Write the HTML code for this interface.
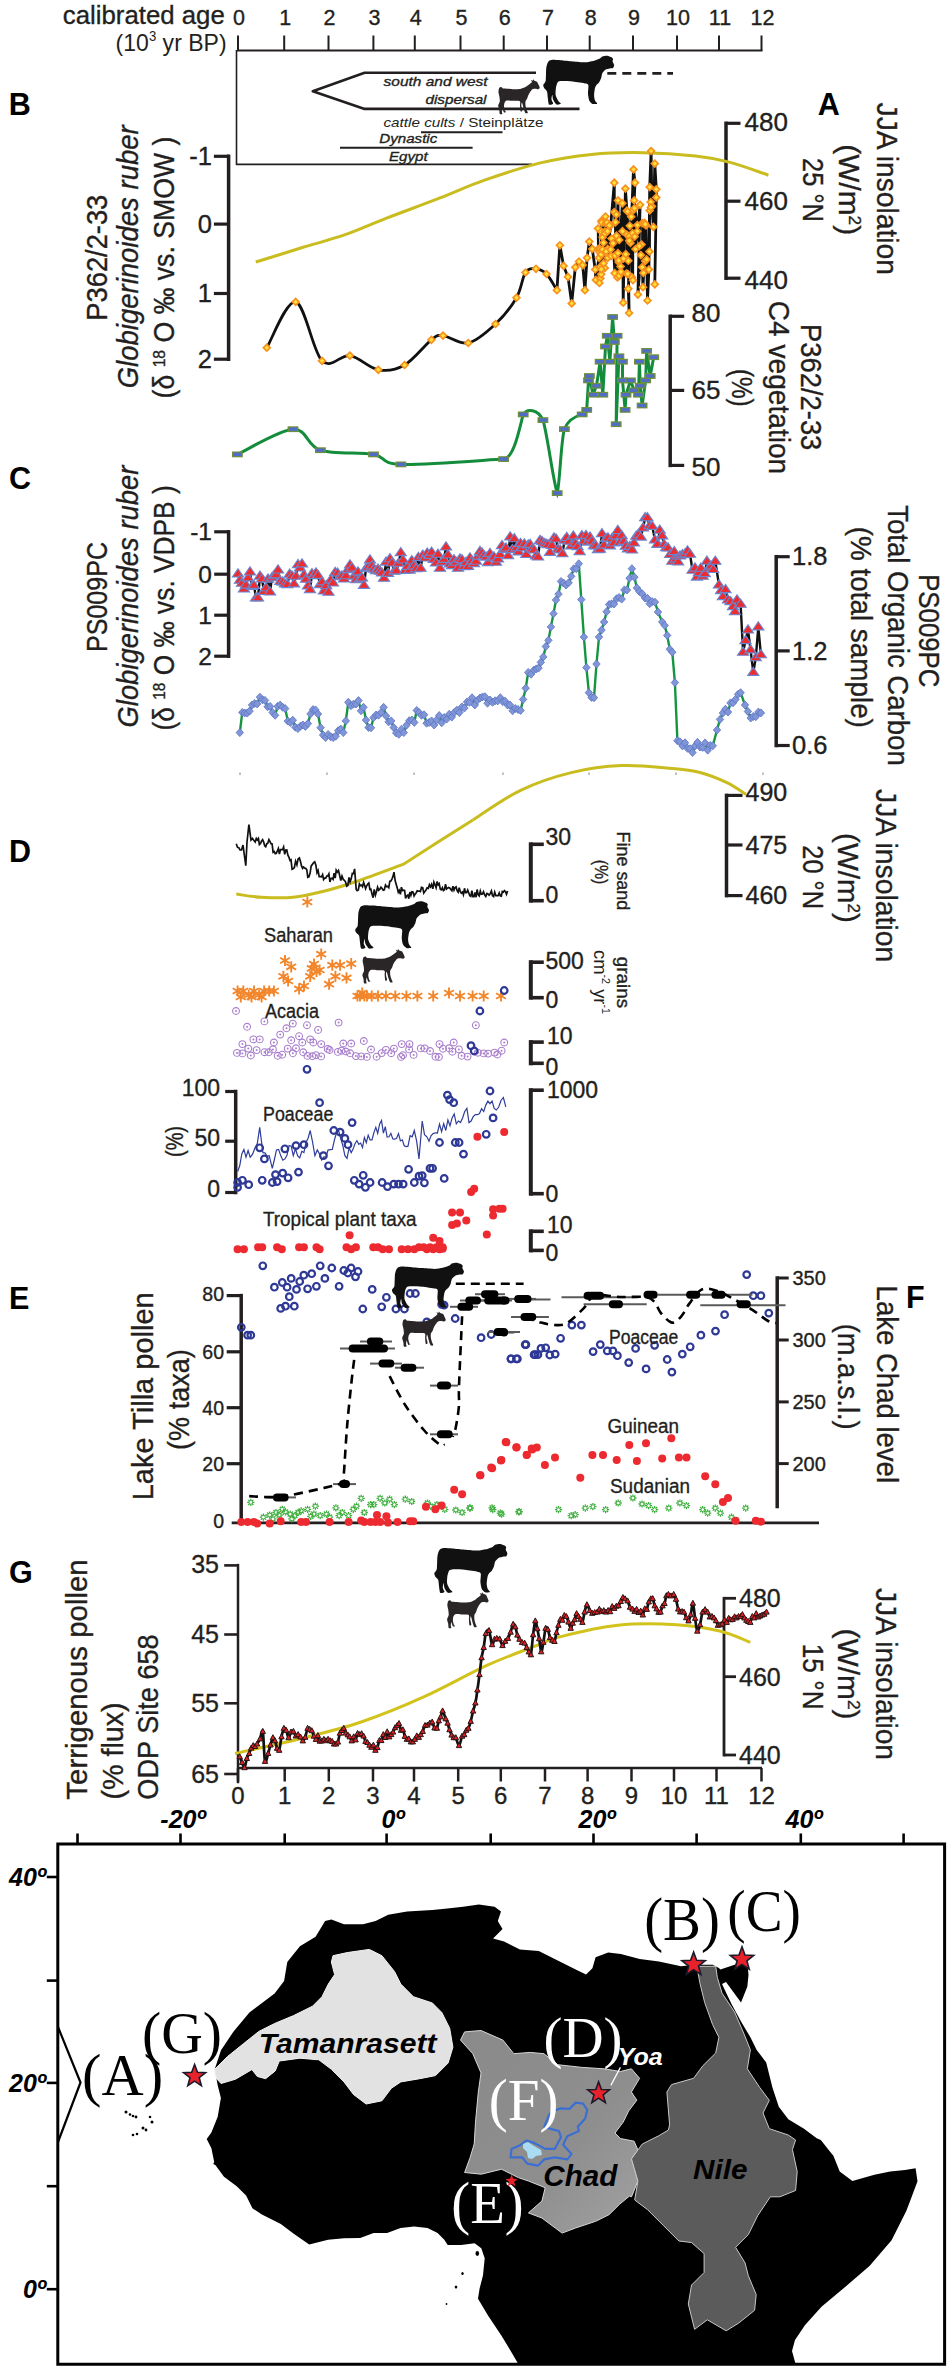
<!DOCTYPE html>
<html><head><meta charset="utf-8"><style>
html,body{margin:0;padding:0;background:#fff;}
svg{display:block;font-family:"Liberation Sans", sans-serif;}
</style></head><body>
<svg width="951" height="2371" viewBox="0 0 951 2371" fill="#231f20">
<rect width="951" height="2371" fill="#fff"/>
<line x1="237" y1="50.5" x2="762.5" y2="50.5" stroke="#231f20" stroke-width="2" />
<line x1="238" y1="35.5" x2="238" y2="50.5" stroke="#231f20" stroke-width="2" />
<text x="239" y="25.3" font-size="21.5" text-anchor="middle" stroke="#231f20" stroke-width="0.35" >0</text>
<line x1="284.2" y1="35.5" x2="284.2" y2="50.5" stroke="#231f20" stroke-width="2" />
<text x="285.2" y="25.3" font-size="21.5" text-anchor="middle" stroke="#231f20" stroke-width="0.35" >1</text>
<line x1="328.5" y1="35.5" x2="328.5" y2="50.5" stroke="#231f20" stroke-width="2" />
<text x="329.5" y="25.3" font-size="21.5" text-anchor="middle" stroke="#231f20" stroke-width="0.35" >2</text>
<line x1="373.4" y1="35.5" x2="373.4" y2="50.5" stroke="#231f20" stroke-width="2" />
<text x="374.4" y="25.3" font-size="21.5" text-anchor="middle" stroke="#231f20" stroke-width="0.35" >3</text>
<line x1="414.8" y1="35.5" x2="414.8" y2="50.5" stroke="#231f20" stroke-width="2" />
<text x="415.8" y="25.3" font-size="21.5" text-anchor="middle" stroke="#231f20" stroke-width="0.35" >4</text>
<line x1="460.5" y1="35.5" x2="460.5" y2="50.5" stroke="#231f20" stroke-width="2" />
<text x="461.5" y="25.3" font-size="21.5" text-anchor="middle" stroke="#231f20" stroke-width="0.35" >5</text>
<line x1="503.7" y1="35.5" x2="503.7" y2="50.5" stroke="#231f20" stroke-width="2" />
<text x="504.7" y="25.3" font-size="21.5" text-anchor="middle" stroke="#231f20" stroke-width="0.35" >6</text>
<line x1="547" y1="35.5" x2="547" y2="50.5" stroke="#231f20" stroke-width="2" />
<text x="548" y="25.3" font-size="21.5" text-anchor="middle" stroke="#231f20" stroke-width="0.35" >7</text>
<line x1="589.7" y1="35.5" x2="589.7" y2="50.5" stroke="#231f20" stroke-width="2" />
<text x="590.7" y="25.3" font-size="21.5" text-anchor="middle" stroke="#231f20" stroke-width="0.35" >8</text>
<line x1="633" y1="35.5" x2="633" y2="50.5" stroke="#231f20" stroke-width="2" />
<text x="634" y="25.3" font-size="21.5" text-anchor="middle" stroke="#231f20" stroke-width="0.35" >9</text>
<line x1="677" y1="35.5" x2="677" y2="50.5" stroke="#231f20" stroke-width="2" />
<text x="678" y="25.3" font-size="21.5" text-anchor="middle" stroke="#231f20" stroke-width="0.35" >10</text>
<line x1="719" y1="35.5" x2="719" y2="50.5" stroke="#231f20" stroke-width="2" />
<text x="720" y="25.3" font-size="21.5" text-anchor="middle" stroke="#231f20" stroke-width="0.35" >11</text>
<line x1="761.5" y1="35.5" x2="761.5" y2="50.5" stroke="#231f20" stroke-width="2" />
<text x="762.5" y="25.3" font-size="21.5" text-anchor="middle" stroke="#231f20" stroke-width="0.35" >12</text>
<text x="224.8" y="24.2" font-size="26" text-anchor="end" textLength="162" lengthAdjust="spacingAndGlyphs" stroke="#231f20" stroke-width="0.35" >calibrated age</text>
<text x="226.6" y="51.3" font-size="24.5" text-anchor="end" textLength="111" lengthAdjust="spacingAndGlyphs">(10<tspan font-size="14" dy="-10">3</tspan><tspan dy="10"> yr BP)</tspan></text>
<line x1="236.5" y1="50" x2="236.5" y2="165" stroke="#231f20" stroke-width="1.6" />
<line x1="236" y1="164.4" x2="532" y2="164.4" stroke="#231f20" stroke-width="1.6" />
<polyline points="536.0,72.8 364.6,72.8 312.8,91.2 364.6,108.9 579.5,108.9" fill="none" stroke="#231f20" stroke-width="2.6" stroke-linejoin="round" />
<text x="435.6" y="85.7" font-size="13.6" text-anchor="middle" font-style="italic" textLength="104" lengthAdjust="spacingAndGlyphs" stroke="#231f20" stroke-width="0.35" >south and west</text>
<text x="486.5" y="103.8" font-size="13.6" text-anchor="end" font-style="italic" textLength="61" lengthAdjust="spacingAndGlyphs" stroke="#231f20" stroke-width="0.35" >dispersal</text>
<text x="383.5" y="127" font-size="13.6" textLength="160" lengthAdjust="spacingAndGlyphs"><tspan font-style="italic">cattle cults</tspan> / Steinplätze</text>
<line x1="421" y1="132.2" x2="502.5" y2="132.2" stroke="#231f20" stroke-width="2" />
<text x="379.3" y="143.2" font-size="13.6" text-anchor="start" font-style="italic" textLength="58" lengthAdjust="spacingAndGlyphs" stroke="#231f20" stroke-width="0.35" >Dynastic</text>
<line x1="340" y1="147.8" x2="472.6" y2="147.8" stroke="#231f20" stroke-width="2" />
<text x="389" y="161" font-size="13.6" text-anchor="start" font-style="italic" textLength="38.6" lengthAdjust="spacingAndGlyphs" stroke="#231f20" stroke-width="0.35" >Egypt</text>
<line x1="607.3" y1="73.4" x2="673" y2="73.4" stroke="#231f20" stroke-width="2.6" stroke-dasharray="9,6"/>
<defs><path id="cow" d="M549.0,61.0 C549.6,60.6 551.0,59.9 552.3,59.8 C553.6,59.7 558.1,60.0 560.5,60.2 C562.9,60.4 569.9,61.2 572.8,61.4 C575.7,61.6 582.7,62.3 585.1,62.3 C587.5,62.3 591.6,61.4 593.3,61.0 C595.0,60.6 598.9,59.1 599.9,58.6 C600.9,58.1 601.4,56.8 602.3,56.5 C603.2,56.2 606.2,55.6 607.3,55.7 C608.4,55.8 610.7,56.9 611.4,57.3 C612.1,57.7 612.9,58.5 613.0,59.0 C613.1,59.5 612.5,60.7 612.6,61.4 C612.7,62.1 614.2,64.3 614.2,65.1 C614.2,65.9 613.5,67.6 613.0,68.0 C612.5,68.4 610.6,68.2 609.7,68.4 C608.8,68.6 606.5,69.0 605.6,69.6 C604.7,70.2 602.8,72.3 602.3,73.3 C601.8,74.3 601.5,77.2 601.1,78.3 C600.7,79.4 599.6,81.6 599.1,82.4 C598.6,83.2 597.1,84.1 596.6,84.8 C596.1,85.5 595.3,86.9 595.0,88.1 C594.7,89.3 594.1,94.1 594.1,95.5 C594.1,96.9 594.6,99.4 595.0,100.4 C595.4,101.4 597.5,103.3 597.2,103.7 C596.9,104.1 593.4,104.3 592.5,103.9 C591.6,103.5 589.7,101.6 589.2,100.4 C588.7,99.2 588.1,95.5 588.0,93.8 C587.9,92.1 588.6,86.8 588.4,85.6 C588.2,84.4 587.7,84.1 585.9,83.6 C584.1,83.1 575.8,81.8 572.8,81.5 C569.8,81.2 562.3,81.0 560.5,81.1 C558.7,81.2 558.1,81.7 557.6,82.4 C557.1,83.1 556.2,85.9 556.0,87.3 C555.8,88.7 555.4,93.2 555.6,94.7 C555.8,96.2 557.4,99.4 558.0,100.4 C558.6,101.5 561.1,103.2 560.9,103.7 C560.7,104.2 557.3,105.0 556.4,104.5 C555.5,104.0 553.6,100.7 553.1,99.6 C552.6,98.5 552.5,94.7 552.3,94.7 C552.1,94.7 551.4,98.5 551.5,99.6 C551.6,100.6 553.4,103.1 553.1,103.7 C552.8,104.3 549.6,105.2 549.0,104.5 C548.4,103.8 548.0,99.4 547.8,97.9 C547.6,96.4 547.4,92.5 547.0,91.4 C546.6,90.3 544.5,88.9 544.1,88.1 C543.7,87.3 543.1,85.7 543.3,84.8 C543.5,83.9 545.4,82.6 545.7,80.7 C546.0,78.8 546.0,70.4 546.2,68.4 C546.4,66.4 547.1,64.4 547.4,63.5 C547.7,62.6 548.4,61.4 549.0,61.0Z"/><path id="goat" d="M498.7,89.8 C498.8,89.3 499.0,88.0 499.3,87.7 C499.6,87.4 501.0,87.0 501.4,87.1 C501.8,87.2 502.0,88.0 502.4,88.2 C502.8,88.4 503.3,88.4 504.5,88.5 C505.7,88.6 510.6,89.1 512.4,89.2 C514.2,89.3 518.8,89.2 520.3,89.0 C521.8,88.8 524.3,87.7 525.5,87.1 C526.7,86.5 529.6,84.1 530.3,83.5 C531.0,82.9 531.8,82.3 531.9,81.9 C532.0,81.5 530.7,79.9 530.8,79.8 C530.9,79.7 532.3,80.9 532.6,80.8 C532.9,80.7 533.0,79.3 533.2,79.3 C533.4,79.3 534.0,80.5 534.5,80.8 C535.0,81.1 536.6,81.4 537.1,81.9 C537.6,82.4 538.4,84.3 538.7,85.0 C539.0,85.7 539.8,87.2 539.7,87.7 C539.6,88.2 538.7,89.1 538.2,89.2 C537.7,89.3 536.2,88.7 535.5,88.7 C534.8,88.7 533.1,88.8 532.4,89.2 C531.7,89.6 530.3,91.7 529.8,92.4 C529.3,93.1 528.5,94.9 528.2,95.6 C527.9,96.3 527.4,98.0 527.1,98.7 C526.8,99.4 525.7,100.5 525.5,101.3 C525.3,102.1 525.4,104.5 525.5,105.5 C525.6,106.5 526.3,108.9 526.6,109.8 C526.9,110.7 528.0,112.5 527.8,112.9 C527.6,113.3 525.7,113.3 525.3,112.9 C524.9,112.5 524.3,110.7 524.0,109.8 C523.7,108.9 523.1,106.4 522.9,105.5 C522.7,104.6 522.1,102.5 521.9,102.5 C521.7,102.5 521.2,104.5 521.3,105.5 C521.4,106.5 522.5,110.1 522.4,110.8 C522.3,111.5 520.9,111.9 520.6,111.3 C520.3,110.7 520.1,106.7 520.0,105.5 C519.9,104.3 520.7,101.8 519.8,101.3 C518.9,100.8 513.9,100.9 512.4,100.8 C510.9,100.7 507.5,100.3 506.6,100.5 C505.7,100.7 504.8,102.2 504.5,102.9 C504.2,103.6 503.9,105.7 504.0,106.6 C504.1,107.5 504.8,110.2 505.0,110.8 C505.2,111.4 506.2,111.7 506.1,111.9 C506.0,112.1 504.4,112.8 504.0,112.4 C503.6,112.0 502.6,108.3 502.4,108.2 C502.2,108.1 501.9,111.2 501.9,111.9 C501.9,112.6 502.6,113.8 502.4,114.0 C502.2,114.2 500.2,114.5 499.8,114.0 C499.4,113.5 499.5,110.8 499.3,109.8 C499.1,108.8 498.1,106.5 498.2,105.5 C498.3,104.5 499.7,102.4 499.8,101.3 C499.9,100.2 499.5,97.1 499.3,96.1 C499.1,95.1 498.6,93.1 498.5,92.4 C498.4,91.7 498.6,90.3 498.7,89.8Z"/></defs>
<use href="#cow" fill="#111"/>
<use href="#goat" fill="#2a2526"/>
<line x1="228.6" y1="156.3" x2="228.6" y2="359.2" stroke="#231f20" stroke-width="3.5" stroke-linecap="square"/>
<line x1="228.6" y1="156.3" x2="213.9" y2="156.3" stroke="#231f20" stroke-width="3.2" />
<line x1="228.6" y1="224.1" x2="213.9" y2="224.1" stroke="#231f20" stroke-width="3.2" />
<line x1="228.6" y1="293.5" x2="213.9" y2="293.5" stroke="#231f20" stroke-width="3.2" />
<line x1="228.6" y1="359.2" x2="213.9" y2="359.2" stroke="#231f20" stroke-width="3.2" />
<text x="212" y="165.2" font-size="25.5" text-anchor="end" stroke="#231f20" stroke-width="0.35" >-1</text>
<text x="212" y="233.0" font-size="25.5" text-anchor="end" stroke="#231f20" stroke-width="0.35" >0</text>
<text x="212" y="302.4" font-size="25.5" text-anchor="end" stroke="#231f20" stroke-width="0.35" >1</text>
<text x="212" y="368.1" font-size="25.5" text-anchor="end" stroke="#231f20" stroke-width="0.35" >2</text>
<line x1="726" y1="123.3" x2="726" y2="278.2" stroke="#231f20" stroke-width="3.5" stroke-linecap="square"/>
<line x1="726" y1="123.3" x2="740.5" y2="123.3" stroke="#231f20" stroke-width="3.2" />
<line x1="726" y1="201.2" x2="740.5" y2="201.2" stroke="#231f20" stroke-width="3.2" />
<line x1="726" y1="278.2" x2="740.5" y2="278.2" stroke="#231f20" stroke-width="3.2" />
<text x="744.5" y="130.9" font-size="26" text-anchor="start" stroke="#231f20" stroke-width="0.35" >480</text>
<text x="744.5" y="210.3" font-size="26" text-anchor="start" stroke="#231f20" stroke-width="0.35" >460</text>
<text x="744.5" y="288.8" font-size="26" text-anchor="start" stroke="#231f20" stroke-width="0.35" >440</text>
<line x1="670.2" y1="316.3" x2="670.2" y2="465.4" stroke="#231f20" stroke-width="3.5" stroke-linecap="square"/>
<line x1="670.2" y1="316.3" x2="684.2" y2="316.3" stroke="#231f20" stroke-width="3.2" />
<line x1="670.2" y1="390.4" x2="684.2" y2="390.4" stroke="#231f20" stroke-width="3.2" />
<line x1="670.2" y1="465.4" x2="684.2" y2="465.4" stroke="#231f20" stroke-width="3.2" />
<text x="691.5" y="321.9" font-size="26" text-anchor="start" stroke="#231f20" stroke-width="0.35" >80</text>
<text x="691.5" y="398.8" font-size="26" text-anchor="start" stroke="#231f20" stroke-width="0.35" >65</text>
<text x="691.5" y="475.5" font-size="26" text-anchor="start" stroke="#231f20" stroke-width="0.35" >50</text>
<line x1="228.6" y1="531.8" x2="228.6" y2="656.2" stroke="#231f20" stroke-width="3.5" stroke-linecap="square"/>
<line x1="228.6" y1="531.8" x2="214.2" y2="531.8" stroke="#231f20" stroke-width="3.2" />
<line x1="228.6" y1="574.2" x2="214.2" y2="574.2" stroke="#231f20" stroke-width="3.2" />
<line x1="228.6" y1="615.2" x2="214.2" y2="615.2" stroke="#231f20" stroke-width="3.2" />
<line x1="228.6" y1="656.2" x2="214.2" y2="656.2" stroke="#231f20" stroke-width="3.2" />
<text x="212" y="540.4" font-size="24.5" text-anchor="end" stroke="#231f20" stroke-width="0.35" >-1</text>
<text x="212" y="582.8" font-size="24.5" text-anchor="end" stroke="#231f20" stroke-width="0.35" >0</text>
<text x="212" y="623.8" font-size="24.5" text-anchor="end" stroke="#231f20" stroke-width="0.35" >1</text>
<text x="212" y="664.8" font-size="24.5" text-anchor="end" stroke="#231f20" stroke-width="0.35" >2</text>
<line x1="776.2" y1="556.7" x2="776.2" y2="745.5" stroke="#231f20" stroke-width="3.5" stroke-linecap="square"/>
<line x1="776.2" y1="556.7" x2="789.7" y2="556.7" stroke="#231f20" stroke-width="3.2" />
<line x1="776.2" y1="650.9" x2="789.7" y2="650.9" stroke="#231f20" stroke-width="3.2" />
<line x1="776.2" y1="745.5" x2="789.7" y2="745.5" stroke="#231f20" stroke-width="3.2" />
<text x="792" y="564.6" font-size="25.5" text-anchor="start" stroke="#231f20" stroke-width="0.35" >1.8</text>
<text x="792" y="659.8" font-size="25.5" text-anchor="start" stroke="#231f20" stroke-width="0.35" >1.2</text>
<text x="792" y="754.4" font-size="25.5" text-anchor="start" stroke="#231f20" stroke-width="0.35" >0.6</text>
<rect x="239.4" y="772.5" width="1.2" height="2.5" fill="#999"/>
<rect x="326.4" y="772.5" width="1.2" height="2.5" fill="#999"/>
<rect x="413.4" y="772.5" width="1.2" height="2.5" fill="#999"/>
<rect x="502.4" y="772.5" width="1.2" height="2.5" fill="#999"/>
<rect x="588.4" y="772.5" width="1.2" height="2.5" fill="#999"/>
<rect x="675.4" y="772.5" width="1.2" height="2.5" fill="#999"/>
<rect x="762.4" y="772.5" width="1.2" height="2.5" fill="#999"/>
<line x1="726.5" y1="795.4" x2="726.5" y2="895.6" stroke="#231f20" stroke-width="3.5" stroke-linecap="square"/>
<line x1="726.5" y1="795.4" x2="742.5" y2="795.4" stroke="#231f20" stroke-width="3.2" />
<line x1="726.5" y1="845" x2="742.5" y2="845" stroke="#231f20" stroke-width="3.2" />
<line x1="726.5" y1="895.6" x2="742.5" y2="895.6" stroke="#231f20" stroke-width="3.2" />
<text x="745.5" y="801.1" font-size="25" text-anchor="start" stroke="#231f20" stroke-width="0.35" >490</text>
<text x="745.5" y="853.8" font-size="25" text-anchor="start" stroke="#231f20" stroke-width="0.35" >475</text>
<text x="745.5" y="904.4" font-size="25" text-anchor="start" stroke="#231f20" stroke-width="0.35" >460</text>
<line x1="530.8" y1="844.3" x2="530.8" y2="900.7" stroke="#231f20" stroke-width="4" stroke-linecap="square"/>
<line x1="530.8" y1="844.3" x2="543.8" y2="844.3" stroke="#231f20" stroke-width="3.6" />
<line x1="530.8" y1="900.7" x2="543.8" y2="900.7" stroke="#231f20" stroke-width="3.6" />
<text x="545.5" y="844.6" font-size="23" text-anchor="start" stroke="#231f20" stroke-width="0.35" >30</text>
<text x="545.5" y="903.2" font-size="23" text-anchor="start" stroke="#231f20" stroke-width="0.35" >0</text>
<line x1="530.8" y1="962.2" x2="530.8" y2="997.7" stroke="#231f20" stroke-width="4" stroke-linecap="square"/>
<line x1="530.8" y1="962.2" x2="543.8" y2="962.2" stroke="#231f20" stroke-width="3.6" />
<line x1="530.8" y1="997.7" x2="543.8" y2="997.7" stroke="#231f20" stroke-width="3.6" />
<text x="545.5" y="969" font-size="23" text-anchor="start" stroke="#231f20" stroke-width="0.35" >500</text>
<text x="545.5" y="1007.8" font-size="23" text-anchor="start" stroke="#231f20" stroke-width="0.35" >0</text>
<line x1="530.8" y1="1042.1" x2="530.8" y2="1063.3" stroke="#231f20" stroke-width="4" stroke-linecap="square"/>
<line x1="530.8" y1="1042.1" x2="543.8" y2="1042.1" stroke="#231f20" stroke-width="3.6" />
<line x1="530.8" y1="1063.3" x2="543.8" y2="1063.3" stroke="#231f20" stroke-width="3.6" />
<text x="547" y="1044.2" font-size="23" text-anchor="start" stroke="#231f20" stroke-width="0.35" >10</text>
<text x="545.5" y="1075.4" font-size="23" text-anchor="start" stroke="#231f20" stroke-width="0.35" >0</text>
<line x1="530.8" y1="1090.2" x2="530.8" y2="1193.7" stroke="#231f20" stroke-width="4" stroke-linecap="square"/>
<line x1="530.8" y1="1090.2" x2="543.8" y2="1090.2" stroke="#231f20" stroke-width="3.6" />
<line x1="530.8" y1="1193.7" x2="543.8" y2="1193.7" stroke="#231f20" stroke-width="3.6" />
<text x="547" y="1098" font-size="23" text-anchor="start" stroke="#231f20" stroke-width="0.35" >1000</text>
<text x="545.5" y="1202.4" font-size="23" text-anchor="start" stroke="#231f20" stroke-width="0.35" >0</text>
<line x1="530.8" y1="1231.3" x2="530.8" y2="1250.4" stroke="#231f20" stroke-width="4" stroke-linecap="square"/>
<line x1="530.8" y1="1231.3" x2="543.8" y2="1231.3" stroke="#231f20" stroke-width="3.6" />
<line x1="530.8" y1="1250.4" x2="543.8" y2="1250.4" stroke="#231f20" stroke-width="3.6" />
<text x="547" y="1233.4" font-size="23" text-anchor="start" stroke="#231f20" stroke-width="0.35" >10</text>
<text x="545.5" y="1261.2" font-size="23" text-anchor="start" stroke="#231f20" stroke-width="0.35" >0</text>
<line x1="235.7" y1="1091.5" x2="235.7" y2="1192.5" stroke="#231f20" stroke-width="3.5" stroke-linecap="square"/>
<line x1="235.7" y1="1091.5" x2="225.2" y2="1091.5" stroke="#231f20" stroke-width="3.2" />
<line x1="235.7" y1="1141.2" x2="225.2" y2="1141.2" stroke="#231f20" stroke-width="3.2" />
<line x1="235.7" y1="1192.5" x2="225.2" y2="1192.5" stroke="#231f20" stroke-width="3.2" />
<text x="220" y="1096.0" font-size="23" text-anchor="end" stroke="#231f20" stroke-width="0.35" >100</text>
<text x="220" y="1145.8" font-size="23" text-anchor="end" stroke="#231f20" stroke-width="0.35" >50</text>
<text x="220" y="1197.0" font-size="23" text-anchor="end" stroke="#231f20" stroke-width="0.35" >0</text>
<line x1="241.2" y1="1295.6" x2="241.2" y2="1522.9" stroke="#231f20" stroke-width="3.5" stroke-linecap="square"/>
<line x1="241.2" y1="1295.6" x2="226.7" y2="1295.6" stroke="#231f20" stroke-width="3.2" />
<line x1="241.2" y1="1351.8" x2="226.7" y2="1351.8" stroke="#231f20" stroke-width="3.2" />
<line x1="241.2" y1="1407.7" x2="226.7" y2="1407.7" stroke="#231f20" stroke-width="3.2" />
<line x1="241.2" y1="1463.7" x2="226.7" y2="1463.7" stroke="#231f20" stroke-width="3.2" />
<text x="224" y="1300.9" font-size="19.5" text-anchor="end" stroke="#231f20" stroke-width="0.35" >80</text>
<text x="224" y="1358.6" font-size="19.5" text-anchor="end" stroke="#231f20" stroke-width="0.35" >60</text>
<text x="224" y="1414.5" font-size="19.5" text-anchor="end" stroke="#231f20" stroke-width="0.35" >40</text>
<text x="224" y="1470.5" font-size="19.5" text-anchor="end" stroke="#231f20" stroke-width="0.35" >20</text>
<text x="224" y="1527.5" font-size="19.5" text-anchor="end" stroke="#231f20" stroke-width="0.35" >0</text>
<line x1="231.7" y1="1522.9" x2="819" y2="1522.9" stroke="#231f20" stroke-width="2.6" />
<line x1="777.2" y1="1278" x2="777.2" y2="1506.5" stroke="#231f20" stroke-width="3.5" stroke-linecap="square"/>
<line x1="777.2" y1="1278" x2="788.7" y2="1278" stroke="#231f20" stroke-width="3" />
<line x1="777.2" y1="1340" x2="788.7" y2="1340" stroke="#231f20" stroke-width="3" />
<line x1="777.2" y1="1401.9" x2="788.7" y2="1401.9" stroke="#231f20" stroke-width="3" />
<line x1="777.2" y1="1463.6" x2="788.7" y2="1463.6" stroke="#231f20" stroke-width="3" />
<text x="792.5" y="1285.0" font-size="20" text-anchor="start" stroke="#231f20" stroke-width="0.35" >350</text>
<text x="792.5" y="1347.0" font-size="20" text-anchor="start" stroke="#231f20" stroke-width="0.35" >300</text>
<text x="792.5" y="1408.9" font-size="20" text-anchor="start" stroke="#231f20" stroke-width="0.35" >250</text>
<text x="792.5" y="1470.6" font-size="20" text-anchor="start" stroke="#231f20" stroke-width="0.35" >200</text>
<line x1="238" y1="1565.1" x2="238" y2="1782" stroke="#231f20" stroke-width="2.5" stroke-linecap="square"/>
<line x1="238" y1="1565.4" x2="224.2" y2="1565.4" stroke="#231f20" stroke-width="2.6" />
<line x1="238" y1="1634.5" x2="224.2" y2="1634.5" stroke="#231f20" stroke-width="2.6" />
<line x1="238" y1="1703.3" x2="224.2" y2="1703.3" stroke="#231f20" stroke-width="2.6" />
<line x1="238" y1="1774" x2="224.2" y2="1774" stroke="#231f20" stroke-width="2.6" />
<text x="219" y="1572.7" font-size="25" text-anchor="end" stroke="#231f20" stroke-width="0.35" >35</text>
<text x="219" y="1643.2" font-size="25" text-anchor="end" stroke="#231f20" stroke-width="0.35" >45</text>
<text x="219" y="1712.0" font-size="25" text-anchor="end" stroke="#231f20" stroke-width="0.35" >55</text>
<text x="219" y="1782.8" font-size="25" text-anchor="end" stroke="#231f20" stroke-width="0.35" >65</text>
<line x1="238" y1="1768" x2="762" y2="1768" stroke="#231f20" stroke-width="2.5" />
<line x1="238" y1="1768" x2="238" y2="1781.5" stroke="#231f20" stroke-width="2.5" />
<text x="238" y="1804" font-size="24" text-anchor="middle" stroke="#231f20" stroke-width="0.35" >0</text>
<line x1="284.7" y1="1768" x2="284.7" y2="1781.5" stroke="#231f20" stroke-width="2.5" />
<text x="284.7" y="1804" font-size="24" text-anchor="middle" stroke="#231f20" stroke-width="0.35" >1</text>
<line x1="328.8" y1="1768" x2="328.8" y2="1781.5" stroke="#231f20" stroke-width="2.5" />
<text x="328.8" y="1804" font-size="24" text-anchor="middle" stroke="#231f20" stroke-width="0.35" >2</text>
<line x1="373" y1="1768" x2="373" y2="1781.5" stroke="#231f20" stroke-width="2.5" />
<text x="373" y="1804" font-size="24" text-anchor="middle" stroke="#231f20" stroke-width="0.35" >3</text>
<line x1="414" y1="1768" x2="414" y2="1781.5" stroke="#231f20" stroke-width="2.5" />
<text x="414" y="1804" font-size="24" text-anchor="middle" stroke="#231f20" stroke-width="0.35" >4</text>
<line x1="458.2" y1="1768" x2="458.2" y2="1781.5" stroke="#231f20" stroke-width="2.5" />
<text x="458.2" y="1804" font-size="24" text-anchor="middle" stroke="#231f20" stroke-width="0.35" >5</text>
<line x1="500.8" y1="1768" x2="500.8" y2="1781.5" stroke="#231f20" stroke-width="2.5" />
<text x="500.8" y="1804" font-size="24" text-anchor="middle" stroke="#231f20" stroke-width="0.35" >6</text>
<line x1="545" y1="1768" x2="545" y2="1781.5" stroke="#231f20" stroke-width="2.5" />
<text x="545" y="1804" font-size="24" text-anchor="middle" stroke="#231f20" stroke-width="0.35" >7</text>
<line x1="587.6" y1="1768" x2="587.6" y2="1781.5" stroke="#231f20" stroke-width="2.5" />
<text x="587.6" y="1804" font-size="24" text-anchor="middle" stroke="#231f20" stroke-width="0.35" >8</text>
<line x1="631.5" y1="1768" x2="631.5" y2="1781.5" stroke="#231f20" stroke-width="2.5" />
<text x="631.5" y="1804" font-size="24" text-anchor="middle" stroke="#231f20" stroke-width="0.35" >9</text>
<line x1="674" y1="1768" x2="674" y2="1781.5" stroke="#231f20" stroke-width="2.5" />
<text x="674" y="1804" font-size="24" text-anchor="middle" stroke="#231f20" stroke-width="0.35" >10</text>
<line x1="716.5" y1="1768" x2="716.5" y2="1781.5" stroke="#231f20" stroke-width="2.5" />
<text x="716.5" y="1804" font-size="24" text-anchor="middle" stroke="#231f20" stroke-width="0.35" >11</text>
<line x1="761.5" y1="1768" x2="761.5" y2="1781.5" stroke="#231f20" stroke-width="2.5" />
<text x="761.5" y="1804" font-size="24" text-anchor="middle" stroke="#231f20" stroke-width="0.35" >12</text>
<line x1="724" y1="1598.3" x2="724" y2="1755" stroke="#231f20" stroke-width="2.8" stroke-linecap="square"/>
<line x1="724" y1="1598.3" x2="736" y2="1598.3" stroke="#231f20" stroke-width="2.8" />
<line x1="724" y1="1676.7" x2="736" y2="1676.7" stroke="#231f20" stroke-width="2.8" />
<line x1="724" y1="1755" x2="736" y2="1755" stroke="#231f20" stroke-width="2.8" />
<text x="739" y="1607.0" font-size="25" text-anchor="start" stroke="#231f20" stroke-width="0.35" >480</text>
<text x="739" y="1685.5" font-size="25" text-anchor="start" stroke="#231f20" stroke-width="0.35" >460</text>
<text x="739" y="1763.8" font-size="25" text-anchor="start" stroke="#231f20" stroke-width="0.35" >440</text>
<text x="8.8" y="114.7" font-size="30.5" text-anchor="start" font-weight="bold" fill="#000" >B</text>
<text x="817.7" y="115.4" font-size="30.5" text-anchor="start" font-weight="bold" fill="#000" >A</text>
<text x="9" y="489.3" font-size="30.5" text-anchor="start" font-weight="bold" fill="#000" >C</text>
<text x="9" y="862" font-size="30.5" text-anchor="start" font-weight="bold" fill="#000" >D</text>
<text x="9" y="1309" font-size="30.5" text-anchor="start" font-weight="bold" fill="#000" >E</text>
<text x="906" y="1308.3" font-size="30.5" text-anchor="start" font-weight="bold" fill="#000" >F</text>
<text x="9" y="1583.3" font-size="30.5" text-anchor="start" font-weight="bold" fill="#000" >G</text>
<text transform="translate(107.3,257.7) rotate(-90)" font-size="29.5" text-anchor="middle" textLength="126" lengthAdjust="spacingAndGlyphs" stroke="#231f20" stroke-width="0.35">P362/2-33</text>
<text transform="translate(137.7,256.8) rotate(-90)" font-size="29.5" text-anchor="middle" textLength="263" lengthAdjust="spacingAndGlyphs" stroke="#231f20" stroke-width="0.35" font-style="italic">Globigerinoides ruber</text>
<text transform="translate(173.8,267.5) rotate(-90)" font-size="29" text-anchor="middle" textLength="262" lengthAdjust="spacingAndGlyphs" stroke="#231f20" stroke-width="0.35">(δ <tspan font-size="17" dy="-9">18</tspan><tspan dy="9"> O ‰ vs. SMOW )</tspan></text>
<text transform="translate(107.2,597) rotate(-90)" font-size="29.5" text-anchor="middle" textLength="110" lengthAdjust="spacingAndGlyphs" stroke="#231f20" stroke-width="0.35">PS009PC</text>
<text transform="translate(137.6,596.6) rotate(-90)" font-size="29.5" text-anchor="middle" textLength="261.8" lengthAdjust="spacingAndGlyphs" stroke="#231f20" stroke-width="0.35" font-style="italic">Globigerinoides ruber</text>
<text transform="translate(174.1,607.9) rotate(-90)" font-size="29" text-anchor="middle" textLength="245.2" lengthAdjust="spacingAndGlyphs" stroke="#231f20" stroke-width="0.35">(δ <tspan font-size="17" dy="-9">18</tspan><tspan dy="9"> O ‰ vs. VDPB )</tspan></text>
<text transform="translate(877.1,188.7) rotate(90)" font-size="29.5" text-anchor="middle" textLength="172.3" lengthAdjust="spacingAndGlyphs" stroke="#231f20" stroke-width="0.35">JJA insolation</text>
<text transform="translate(838.6,189.7) rotate(90)" font-size="29.5" text-anchor="middle" textLength="90.8" lengthAdjust="spacingAndGlyphs" stroke="#231f20" stroke-width="0.35">(W/m<tspan font-size="17" dy="-10">2</tspan><tspan dy="10">)</tspan></text>
<text transform="translate(802.6,190) rotate(90)" font-size="29.5" text-anchor="middle" textLength="63.8" lengthAdjust="spacingAndGlyphs" stroke="#231f20" stroke-width="0.35">25 °N</text>
<text transform="translate(800.8,387.2) rotate(90)" font-size="29.5" text-anchor="middle" textLength="126.2" lengthAdjust="spacingAndGlyphs" stroke="#231f20" stroke-width="0.35">P362/2-33</text>
<text transform="translate(768.6,387.5) rotate(90)" font-size="29.5" text-anchor="middle" textLength="173.5" lengthAdjust="spacingAndGlyphs" stroke="#231f20" stroke-width="0.35">C4 vegetation</text>
<text transform="translate(732,387.8) rotate(90)" font-size="29" text-anchor="middle" textLength="37.8" lengthAdjust="spacingAndGlyphs" stroke="#231f20" stroke-width="0.35">(%)</text>
<text transform="translate(918.6,630.8) rotate(90)" font-size="29.5" text-anchor="middle" textLength="113.3" lengthAdjust="spacingAndGlyphs" stroke="#231f20" stroke-width="0.35">PS009PC</text>
<text transform="translate(887.6,635.5) rotate(90)" font-size="29.5" text-anchor="middle" textLength="260.6" lengthAdjust="spacingAndGlyphs" stroke="#231f20" stroke-width="0.35">Total Organic Carbon</text>
<text transform="translate(850.6,627.3) rotate(90)" font-size="29.5" text-anchor="middle" textLength="201.2" lengthAdjust="spacingAndGlyphs" stroke="#231f20" stroke-width="0.35">(%  total sample)</text>
<text transform="translate(875.7,875.6) rotate(90)" font-size="29.5" text-anchor="middle" textLength="173.1" lengthAdjust="spacingAndGlyphs" stroke="#231f20" stroke-width="0.35">JJA insolation</text>
<text transform="translate(837.7,877.9) rotate(90)" font-size="29.5" text-anchor="middle" textLength="89.6" lengthAdjust="spacingAndGlyphs" stroke="#231f20" stroke-width="0.35">(W/m<tspan font-size="17" dy="-10">2</tspan><tspan dy="10">)</tspan></text>
<text transform="translate(802.8,877.2) rotate(90)" font-size="29.5" text-anchor="middle" textLength="63.8" lengthAdjust="spacingAndGlyphs" stroke="#231f20" stroke-width="0.35">20 °N</text>
<text transform="translate(617,870.9) rotate(90)" font-size="19" text-anchor="middle" textLength="78.6" lengthAdjust="spacingAndGlyphs" stroke="#231f20" stroke-width="0.35">Fine sand</text>
<text transform="translate(594.5,872) rotate(90)" font-size="19" text-anchor="middle" textLength="24.7" lengthAdjust="spacingAndGlyphs" stroke="#231f20" stroke-width="0.35">(%)</text>
<text transform="translate(617,982.4) rotate(90)" font-size="19" text-anchor="middle" textLength="51.3" lengthAdjust="spacingAndGlyphs" stroke="#231f20" stroke-width="0.35">grains</text>
<text transform="translate(594,982) rotate(90)" font-size="19" text-anchor="middle" textLength="64" lengthAdjust="spacingAndGlyphs">cm<tspan font-size="11" dy="-8">-2</tspan><tspan dy="8"> yr</tspan><tspan font-size="11" dy="-8">-1</tspan></text>
<text transform="translate(183,1141.5) rotate(-90)" font-size="23" text-anchor="middle" textLength="31" lengthAdjust="spacingAndGlyphs" stroke="#231f20" stroke-width="0.35">(%)</text>
<text transform="translate(152.8,1396.3) rotate(-90)" font-size="30" text-anchor="middle" textLength="208" lengthAdjust="spacingAndGlyphs" stroke="#231f20" stroke-width="0.35">Lake Tilla  pollen</text>
<text transform="translate(188.5,1399.6) rotate(-90)" font-size="30" text-anchor="middle" textLength="100.6" lengthAdjust="spacingAndGlyphs" stroke="#231f20" stroke-width="0.35">(% taxa)</text>
<text transform="translate(876.6,1384.3) rotate(90)" font-size="29.5" text-anchor="middle" textLength="197.4" lengthAdjust="spacingAndGlyphs" stroke="#231f20" stroke-width="0.35">Lake Chad level</text>
<text transform="translate(837.7,1376.7) rotate(90)" font-size="29.5" text-anchor="middle" textLength="106" lengthAdjust="spacingAndGlyphs" stroke="#231f20" stroke-width="0.35">(m.a.s.l.)</text>
<text transform="translate(86.8,1679.5) rotate(-90)" font-size="29" text-anchor="middle" textLength="240.3" lengthAdjust="spacingAndGlyphs" stroke="#231f20" stroke-width="0.35">Terrigenous pollen</text>
<text transform="translate(122.6,1751) rotate(-90)" font-size="29" text-anchor="middle" textLength="97.2" lengthAdjust="spacingAndGlyphs" stroke="#231f20" stroke-width="0.35">(% flux)</text>
<text transform="translate(158.4,1717) rotate(-90)" font-size="29" text-anchor="middle" textLength="165.4" lengthAdjust="spacingAndGlyphs" stroke="#231f20" stroke-width="0.35">ODP Site 658</text>
<text transform="translate(876,1674) rotate(90)" font-size="29.5" text-anchor="middle" textLength="172" lengthAdjust="spacingAndGlyphs" stroke="#231f20" stroke-width="0.35">JJA insolation</text>
<text transform="translate(838,1674) rotate(90)" font-size="29.5" text-anchor="middle" textLength="91" lengthAdjust="spacingAndGlyphs" stroke="#231f20" stroke-width="0.35">(W/m<tspan font-size="17" dy="-10">2</tspan><tspan dy="10">)</tspan></text>
<text transform="translate(802.6,1676.7) rotate(90)" font-size="29.5" text-anchor="middle" textLength="65.8" lengthAdjust="spacingAndGlyphs" stroke="#231f20" stroke-width="0.35">15 °N</text>
<defs>
<g id="od"><path d="M0,-4.6 L4.6,0 L0,4.6 L-4.6,0Z" fill="#f7901e"/><path d="M0,-2.2 L2.2,0 L0,2.2 L-2.2,0Z" fill="#ffe33a"/></g>
<g id="br"><rect x="-5.4" y="-2.9" width="10.8" height="5.8" fill="#6f8f3a"/><rect x="-4" y="-1.7" width="8" height="3.4" fill="#4f6cc8"/></g>
<g id="rt"><path d="M0,-5.2 L5.6,3 L-5.6,3Z" fill="#ee2b2e" stroke="#6a86d0" stroke-width="1.1"/></g>
<g id="bd"><path d="M0,-4 L3.7,0 L0,4 L-3.7,0Z" fill="#8096d8" stroke="#5b74c2" stroke-width="0.8"/></g>
<g id="oc"><circle r="3.3" fill="none" stroke="#2e3895" stroke-width="2.2"/></g>
<g id="pc"><circle r="3.4" fill="none" stroke="#a87dcc" stroke-width="1.1"/><circle r="1" fill="#a87dcc"/></g>
<g id="rd"><circle r="4" fill="#ec2a30"/></g>
<g id="as"><path d="M0,-5.6V5.6M-4.9,-2.8L4.9,2.8M-4.9,2.8L4.9,-2.8" stroke="#f3862a" stroke-width="1.9"/></g>
<g id="gs"><path d="M1.30,0.00L3.60,0.00M0.92,0.92L2.55,2.55M0.00,1.30L0.00,3.60M-0.92,0.92L-2.55,2.55M-1.30,0.00L-3.60,0.00M-0.92,-0.92L-2.55,-2.55M-0.00,-1.30L-0.00,-3.60M0.92,-0.92L2.55,-2.55" stroke="#3cae3c" stroke-width="1.3"/></g>
<g id="gr"><path d="M0,-3 L2.7,2 L-2.7,2Z" fill="#dc2026" stroke="#2a1515" stroke-width="1"/></g>
</defs>
<path d="M255.8,262.0 C263.7,259.6 288.2,251.9 303.1,247.3 C318.0,242.8 331.2,239.6 345.2,234.7 C359.2,229.8 371.4,224.0 387.2,217.9 C403.0,211.8 423.9,204.2 440.0,197.9 C456.1,191.7 467.3,186.2 483.9,180.4 C500.5,174.6 521.5,167.4 539.4,163.1 C557.3,158.8 574.0,156.1 591.4,154.4 C608.8,152.7 626.1,152.4 643.5,152.7 C660.9,153.0 681.0,154.5 695.5,156.1 C710.0,157.7 718.1,159.2 730.2,162.4 C742.4,165.6 762.0,173.1 768.4,175.2" fill="none" stroke="#c9bc1e" stroke-width="3"/>
<path d="M266.8,347.7 C271.6,340.1 286.5,299.7 295.7,301.9 C304.9,304.1 313.0,351.9 322.0,360.8 C331.0,369.8 340.5,354.1 349.9,355.6 C359.3,357.1 369.2,368.2 378.3,369.8 C387.4,371.4 395.8,370.0 404.6,365.0 C413.5,360.0 425.0,344.7 431.4,339.8 C437.8,334.9 436.9,335.1 443.0,335.6 C449.1,336.1 459.4,344.9 468.2,343.0 C476.9,341.1 487.4,331.6 495.5,324.0 C503.6,316.4 511.5,306.3 516.5,297.7 C521.5,289.1 522.2,277.3 525.5,272.5 C528.8,267.7 532.5,268.6 536.0,268.8 C539.5,269.1 543.0,270.4 546.5,274.0 C550.0,277.6 555.2,287.5 556.9,290.2" fill="none" stroke="#111" stroke-width="2.8"/>
<path d="M556.9,290.2 L559.9,245.3 L563.6,265.9 L568.0,276.9 L571.7,303.4 L575.3,267.3 L579.0,261.5 L582.7,265.1 L584.9,290.2 L587.1,257.8 L589.3,241.6 L592.3,248.9 L595.2,269.5 L595.9,279.9 L598.9,257.8 L600.4,278.4 L602.6,253.4 L604.8,268.1 L602.6,237.2 L603.3,222.4 L605.5,216.5 L607.7,248.9 L610.7,225.4 L614.3,182.7 L614.3,212.1 L616.5,235.7 L618.0,200.4 L618.8,262.2 L622.4,203.3 L623.2,302.7 L625.4,188.6 L626.9,210.7 L628.3,260.7 L629.1,313.0 L628.3,288.7 L630.5,243.0 L633.5,169.4 L635.0,182.7 L634.2,200.4 L637.2,231.3 L640.1,204.8 L637.9,294.6 L641.6,244.5 L643.0,287.2 L646.0,225.4 L647.5,300.5 L648.9,269.5 L649.7,187.1 L651.1,151.0 L651.9,206.2 L653.4,226.9 L654.8,163.6 L656.3,189.3 L656.3,197.4 L654.8,284.3" fill="none" stroke="#111" stroke-width="2.8" stroke-linejoin="round"/>
<path d="M598.0,228.5 L598.2,248.8 L599.2,251.7 L599.4,283.0 L600.0,249.2 L600.1,267.0 L601.1,254.5 L601.2,274.3 L601.2,231.5 L601.3,269.2 L601.4,220.9 L601.8,222.6 L602.4,249.6 L603.5,242.7 L603.6,263.2 L604.7,231.6 L605.0,233.4 L605.8,223.2 L606.2,251.3 L607.1,222.7 L607.5,231.3 L607.8,257.8 L609.3,225.4 L610.6,249.4 L611.2,256.0 L611.6,238.6 L613.0,243.3 L614.7,273.2 L615.0,255.6 L615.5,222.3 L616.4,214.6 L617.4,277.4 L617.9,253.1 L618.8,260.5 L619.1,275.8 L619.2,239.9 L620.6,266.6 L620.9,271.8 L622.5,231.2 L623.6,258.5 L625.8,254.2 L626.4,273.6 L626.9,234.7 L627.6,211.4 L627.7,273.8 L629.2,236.2 L629.3,240.7 L629.8,225.8 L631.2,216.7 L631.9,277.2 L632.5,233.2 L632.9,280.2 L633.2,210.2 L634.5,208.3 L634.7,236.6 L635.5,249.0 L637.4,225.1 L639.3,246.1 L640.9,255.1 L642.2,267.2 L642.4,223.1 L643.4,272.9 L644.4,222.8 L645.2,261.1 L645.3,224.3 L646.6,259.3 L649.5,251.5 L649.7,210.4 L650.7,202.1 L650.9,207.4" fill="none" stroke="#111" stroke-width="2.4" stroke-linejoin="round"/>
<use href="#od" x="266.8" y="347.7"/><use href="#od" x="295.7" y="301.9"/><use href="#od" x="322.0" y="360.8"/><use href="#od" x="349.9" y="355.6"/><use href="#od" x="378.3" y="369.8"/><use href="#od" x="404.6" y="365.0"/><use href="#od" x="431.4" y="339.8"/><use href="#od" x="443.0" y="335.6"/><use href="#od" x="468.2" y="343.0"/><use href="#od" x="495.5" y="324.0"/><use href="#od" x="516.5" y="297.7"/><use href="#od" x="525.5" y="272.5"/><use href="#od" x="536.0" y="268.8"/><use href="#od" x="546.5" y="274.0"/><use href="#od" x="556.9" y="290.2"/><use href="#od" x="559.9" y="245.3"/><use href="#od" x="563.6" y="265.9"/><use href="#od" x="568.0" y="276.9"/><use href="#od" x="571.7" y="303.4"/><use href="#od" x="575.3" y="267.3"/><use href="#od" x="579.0" y="261.5"/><use href="#od" x="582.7" y="265.1"/><use href="#od" x="584.9" y="290.2"/><use href="#od" x="587.1" y="257.8"/><use href="#od" x="589.3" y="241.6"/><use href="#od" x="592.3" y="248.9"/><use href="#od" x="595.2" y="269.5"/><use href="#od" x="595.9" y="279.9"/><use href="#od" x="598.9" y="257.8"/><use href="#od" x="600.4" y="278.4"/><use href="#od" x="602.6" y="253.4"/><use href="#od" x="604.8" y="268.1"/><use href="#od" x="602.6" y="237.2"/><use href="#od" x="603.3" y="222.4"/><use href="#od" x="605.5" y="216.5"/><use href="#od" x="607.7" y="248.9"/><use href="#od" x="610.7" y="225.4"/><use href="#od" x="614.3" y="182.7"/><use href="#od" x="614.3" y="212.1"/><use href="#od" x="616.5" y="235.7"/><use href="#od" x="618.0" y="200.4"/><use href="#od" x="618.8" y="262.2"/><use href="#od" x="622.4" y="203.3"/><use href="#od" x="623.2" y="302.7"/><use href="#od" x="625.4" y="188.6"/><use href="#od" x="626.9" y="210.7"/><use href="#od" x="628.3" y="260.7"/><use href="#od" x="629.1" y="313.0"/><use href="#od" x="628.3" y="288.7"/><use href="#od" x="630.5" y="243.0"/><use href="#od" x="633.5" y="169.4"/><use href="#od" x="635.0" y="182.7"/><use href="#od" x="634.2" y="200.4"/><use href="#od" x="637.2" y="231.3"/><use href="#od" x="640.1" y="204.8"/><use href="#od" x="637.9" y="294.6"/><use href="#od" x="641.6" y="244.5"/><use href="#od" x="643.0" y="287.2"/><use href="#od" x="646.0" y="225.4"/><use href="#od" x="647.5" y="300.5"/><use href="#od" x="648.9" y="269.5"/><use href="#od" x="649.7" y="187.1"/><use href="#od" x="651.1" y="151.0"/><use href="#od" x="651.9" y="206.2"/><use href="#od" x="653.4" y="226.9"/><use href="#od" x="654.8" y="163.6"/><use href="#od" x="656.3" y="189.3"/><use href="#od" x="656.3" y="197.4"/><use href="#od" x="654.8" y="284.3"/><use href="#od" x="598.0" y="228.5"/><use href="#od" x="598.2" y="248.8"/><use href="#od" x="599.2" y="251.7"/><use href="#od" x="599.4" y="283.0"/><use href="#od" x="600.0" y="249.2"/><use href="#od" x="600.1" y="267.0"/><use href="#od" x="601.1" y="254.5"/><use href="#od" x="601.2" y="274.3"/><use href="#od" x="601.2" y="231.5"/><use href="#od" x="601.3" y="269.2"/><use href="#od" x="601.4" y="220.9"/><use href="#od" x="601.8" y="222.6"/><use href="#od" x="602.4" y="249.6"/><use href="#od" x="603.5" y="242.7"/><use href="#od" x="603.6" y="263.2"/><use href="#od" x="604.7" y="231.6"/><use href="#od" x="605.0" y="233.4"/><use href="#od" x="605.8" y="223.2"/><use href="#od" x="606.2" y="251.3"/><use href="#od" x="607.1" y="222.7"/><use href="#od" x="607.5" y="231.3"/><use href="#od" x="607.8" y="257.8"/><use href="#od" x="609.3" y="225.4"/><use href="#od" x="610.6" y="249.4"/><use href="#od" x="611.2" y="256.0"/><use href="#od" x="611.6" y="238.6"/><use href="#od" x="613.0" y="243.3"/><use href="#od" x="614.7" y="273.2"/><use href="#od" x="615.0" y="255.6"/><use href="#od" x="615.5" y="222.3"/><use href="#od" x="616.4" y="214.6"/><use href="#od" x="617.4" y="277.4"/><use href="#od" x="617.9" y="253.1"/><use href="#od" x="618.8" y="260.5"/><use href="#od" x="619.1" y="275.8"/><use href="#od" x="619.2" y="239.9"/><use href="#od" x="620.6" y="266.6"/><use href="#od" x="620.9" y="271.8"/><use href="#od" x="622.5" y="231.2"/><use href="#od" x="623.6" y="258.5"/><use href="#od" x="625.8" y="254.2"/><use href="#od" x="626.4" y="273.6"/><use href="#od" x="626.9" y="234.7"/><use href="#od" x="627.6" y="211.4"/><use href="#od" x="627.7" y="273.8"/><use href="#od" x="629.2" y="236.2"/><use href="#od" x="629.3" y="240.7"/><use href="#od" x="629.8" y="225.8"/><use href="#od" x="631.2" y="216.7"/><use href="#od" x="631.9" y="277.2"/><use href="#od" x="632.5" y="233.2"/><use href="#od" x="632.9" y="280.2"/><use href="#od" x="633.2" y="210.2"/><use href="#od" x="634.5" y="208.3"/><use href="#od" x="634.7" y="236.6"/><use href="#od" x="635.5" y="249.0"/><use href="#od" x="637.4" y="225.1"/><use href="#od" x="639.3" y="246.1"/><use href="#od" x="640.9" y="255.1"/><use href="#od" x="642.2" y="267.2"/><use href="#od" x="642.4" y="223.1"/><use href="#od" x="643.4" y="272.9"/><use href="#od" x="644.4" y="222.8"/><use href="#od" x="645.2" y="261.1"/><use href="#od" x="645.3" y="224.3"/><use href="#od" x="646.6" y="259.3"/><use href="#od" x="649.5" y="251.5"/><use href="#od" x="649.7" y="210.4"/><use href="#od" x="650.7" y="202.1"/><use href="#od" x="650.9" y="207.4"/>
<path d="M237.4,454.4 C246.7,450.2 279.2,429.9 293.0,429.2 C306.8,428.5 307.0,446.0 320.4,450.2 C333.8,454.4 360.1,452.0 373.5,454.4 C386.9,456.8 379.2,463.6 400.9,464.4 C422.6,465.2 486.5,460.0 503.6,459.1 C514,458.5 519.5,428 523.2,414.4 C527,408 538,409 542.9,420.1 C547,432 553,480 557.2,493.1 C560,482 561,440 564.4,429.1 C568,420 576,416 582.2,414.4 L586.7,409.9" fill="none" stroke="#138c3c" stroke-width="3"/>
<path d="M586.7,409.9 L588.5,380.4 L589.4,376.0 L593.0,394.7 L596.5,385.8 L600.1,361.7 L602.8,394.7 L605.5,346.5 L607.3,335.8 L609.9,361.7 L612.6,317.0 L614.4,342.0 L617.1,335.8 L616.2,424.2 L618.9,356.3 L622.5,361.7 L622.5,380.4 L625.1,409.9 L626.0,394.7 L630.5,380.4 L634.1,390.3 L638.5,394.7 L639.4,361.7 L640.3,385.8 L642.1,405.5 L645.7,380.4 L646.6,350.9 L650.2,376.0 L653.7,357.2" fill="none" stroke="#138c3c" stroke-width="3" stroke-linejoin="round"/>
<use href="#br" x="237.4" y="454.4"/><use href="#br" x="293.0" y="429.2"/><use href="#br" x="320.4" y="450.2"/><use href="#br" x="373.5" y="454.4"/><use href="#br" x="400.9" y="464.4"/><use href="#br" x="503.6" y="459.1"/><use href="#br" x="523.2" y="414.4"/><use href="#br" x="542.9" y="420.1"/><use href="#br" x="557.2" y="493.1"/><use href="#br" x="564.4" y="429.1"/><use href="#br" x="582.2" y="414.4"/><use href="#br" x="586.7" y="409.9"/><use href="#br" x="588.5" y="380.4"/><use href="#br" x="589.4" y="376.0"/><use href="#br" x="593.0" y="394.7"/><use href="#br" x="596.5" y="385.8"/><use href="#br" x="600.1" y="361.7"/><use href="#br" x="602.8" y="394.7"/><use href="#br" x="605.5" y="346.5"/><use href="#br" x="607.3" y="335.8"/><use href="#br" x="609.9" y="361.7"/><use href="#br" x="612.6" y="317.0"/><use href="#br" x="614.4" y="342.0"/><use href="#br" x="617.1" y="335.8"/><use href="#br" x="616.2" y="424.2"/><use href="#br" x="618.9" y="356.3"/><use href="#br" x="622.5" y="361.7"/><use href="#br" x="622.5" y="380.4"/><use href="#br" x="625.1" y="409.9"/><use href="#br" x="626.0" y="394.7"/><use href="#br" x="630.5" y="380.4"/><use href="#br" x="634.1" y="390.3"/><use href="#br" x="638.5" y="394.7"/><use href="#br" x="639.4" y="361.7"/><use href="#br" x="640.3" y="385.8"/><use href="#br" x="642.1" y="405.5"/><use href="#br" x="645.7" y="380.4"/><use href="#br" x="646.6" y="350.9"/><use href="#br" x="650.2" y="376.0"/><use href="#br" x="653.7" y="357.2"/>
<path d="M238.0,574.0 L240.0,580.2 L242.0,583.3 L244.0,589.0 L246.0,585.1 L248.0,577.9 L250.0,572.0 L252.0,586.5 L254.0,585.4 L256.0,598.0 L258.0,597.9 L260.0,576.2 L262.0,579.0 L264.0,591.5 L266.0,587.8 L268.0,579.1 L270.0,592.0 L272.0,577.7 L274.0,575.8 L276.0,574.8 L278.0,570.0 L280.3,581.5 L282.7,582.1 L285.0,584.0 L287.3,584.6 L289.7,574.2 L292.0,576.0 L294.0,583.9 L296.0,576.2 L298.0,564.6 L300.0,568.0 L302.0,563.9 L304.0,575.0 L306.0,579.2 L308.0,586.0 L310.0,589.7 L312.0,573.7 L314.0,575.6 L316.0,573.0 L318.0,575.4 L320.0,584.6 L322.0,581.9 L324.0,591.0 L326.2,585.7 L328.5,592.2 L330.8,579.9 L333.0,583.0 L335.2,572.4 L337.5,573.1 L339.8,576.7 L342.0,576.0 L344.0,579.0 L346.0,575.7 L348.0,569.6 L350.0,565.0 L352.0,568.0 L354.0,576.1 L356.0,579.7 L358.0,571.9 L360.0,578.8 L362.0,578.0 L364.0,585.4 L366.0,568.4 L368.0,567.4 L370.0,559.9 L372.0,566.0 L374.0,569.1 L376.0,570.8 L378.0,569.3 L380.0,571.3 L382.0,573.0 L384.0,578.3 L386.0,562.1 L388.0,573.4 L390.0,558.8 L392.0,563.0 L394.2,571.2 L396.4,570.8 L398.6,563.3 L400.8,552.7 L403.0,560.0 L405.2,570.5 L407.4,566.5 L409.6,570.1 L411.8,560.7 L414.0,566.0 L416.2,568.8 L418.4,557.4 L420.6,568.2 L422.8,555.2 L425.0,558.0 L427.2,553.1 L429.4,555.4 L431.6,552.2 L433.8,559.4 L436.0,563.0 L438.0,554.3 L440.0,568.2 L442.0,562.1 L444.0,559.4 L446.0,547.0 L448.0,555.0 L450.0,563.9 L452.0,565.6 L454.0,559.7 L456.0,562.3 L458.0,568.3 L460.0,559.0 L462.0,559.7 L464.0,566.6 L466.0,562.5 L468.0,566.5 L470.0,558.0 L472.0,560.9 L474.0,563.8 L476.0,561.3 L478.0,556.1 L480.0,551.5 L482.0,553.0 L484.0,555.8 L486.0,557.1 L488.0,562.6 L490.0,553.4 L492.0,558.0 L494.0,557.0 L496.0,562.3 L498.0,559.0 L500.0,554.5 L502.0,545.6 L504.0,549.4 L506.0,548.0 L508.1,555.8 L510.2,536.9 L512.3,549.6 L514.3,538.8 L516.4,547.9 L518.5,551.9 L520.6,543.4 L522.5,547.7 L524.4,543.9 L526.3,554.5 L528.3,544.9 L530.2,544.4 L532.1,549.0 L534.0,550.0 L536.0,556.0 L538.0,557.0 L540.0,540.4 L542.0,541.5 L544.0,543.3 L546.0,544.0 L548.0,544.7 L550.0,552.4 L552.0,545.5 L554.0,538.0 L556.0,539.0 L558.0,549.0 L560.2,549.9 L562.4,553.8 L564.6,540.2 L566.8,537.5 L569.0,541.2 L571.2,546.0 L573.3,536.1 L575.5,543.3 L577.6,546.6 L579.7,551.8 L581.9,535.8 L584.0,541.0 L586.0,535.4 L588.0,542.1 L590.0,537.1 L592.0,541.2 L594.0,545.6 L596.0,546.0 L598.0,549.8 L600.0,549.2 L602.0,533.7 L604.0,545.1 L606.0,538.4 L608.0,538.0 L610.0,545.9 L611.9,538.7 L613.9,543.0 L615.8,536.0 L617.8,530.5 L619.7,542.5 L621.7,535.8 L623.8,541.4 L625.8,546.2 L627.9,548.9 L629.9,546.4 L632.0,550.0 L634.0,543.0 L636.2,536.2 L638.5,534.3 L640.8,537.1 L643.0,528.0 L645.2,517.8 L647.4,517.8 L649.6,525.8 L652.3,526.4 L655.0,540.0 L657.4,544.4 L659.8,530.2 L662.2,535.9 L664.1,544.4 L666.1,547.8 L668.0,548.0 L670.1,554.5 L672.3,561.2 L674.2,551.6 L676.1,559.1 L678.1,561.9 L680.0,556.0 L682.5,554.8 L685.0,553.9 L687.5,551.0 L690.0,554.3 L692.5,570.3 L695.0,568.0 L696.9,577.1 L698.9,572.6 L700.8,568.2 L702.7,576.3 L704.8,573.6 L706.9,561.3 L709.0,568.0 L711.1,566.1 L713.2,569.5 L715.3,561.2 L719.0,585.0 L721.0,590.6 L722.9,596.6 L725.5,589.6 L728.0,600.0 L730.5,601.6 L733.0,606.7 L735.0,611.8 L737.0,600.0 L740.6,604.2 L743.1,652.2 L745.5,640.6 L748.0,630.0 L750.6,649.9 L753.3,672.4 L755.8,657.7 L758.3,626.9 L760.9,654.7" fill="none" stroke="#111" stroke-width="2.4" stroke-linejoin="round"/>
<use href="#rt" x="238.0" y="574.0"/><use href="#rt" x="240.0" y="580.2"/><use href="#rt" x="242.0" y="583.3"/><use href="#rt" x="244.0" y="589.0"/><use href="#rt" x="246.0" y="585.1"/><use href="#rt" x="248.0" y="577.9"/><use href="#rt" x="250.0" y="572.0"/><use href="#rt" x="252.0" y="586.5"/><use href="#rt" x="254.0" y="585.4"/><use href="#rt" x="256.0" y="598.0"/><use href="#rt" x="258.0" y="597.9"/><use href="#rt" x="260.0" y="576.2"/><use href="#rt" x="262.0" y="579.0"/><use href="#rt" x="264.0" y="591.5"/><use href="#rt" x="266.0" y="587.8"/><use href="#rt" x="268.0" y="579.1"/><use href="#rt" x="270.0" y="592.0"/><use href="#rt" x="272.0" y="577.7"/><use href="#rt" x="274.0" y="575.8"/><use href="#rt" x="276.0" y="574.8"/><use href="#rt" x="278.0" y="570.0"/><use href="#rt" x="280.3" y="581.5"/><use href="#rt" x="282.7" y="582.1"/><use href="#rt" x="285.0" y="584.0"/><use href="#rt" x="287.3" y="584.6"/><use href="#rt" x="289.7" y="574.2"/><use href="#rt" x="292.0" y="576.0"/><use href="#rt" x="294.0" y="583.9"/><use href="#rt" x="296.0" y="576.2"/><use href="#rt" x="298.0" y="564.6"/><use href="#rt" x="300.0" y="568.0"/><use href="#rt" x="302.0" y="563.9"/><use href="#rt" x="304.0" y="575.0"/><use href="#rt" x="306.0" y="579.2"/><use href="#rt" x="308.0" y="586.0"/><use href="#rt" x="310.0" y="589.7"/><use href="#rt" x="312.0" y="573.7"/><use href="#rt" x="314.0" y="575.6"/><use href="#rt" x="316.0" y="573.0"/><use href="#rt" x="318.0" y="575.4"/><use href="#rt" x="320.0" y="584.6"/><use href="#rt" x="322.0" y="581.9"/><use href="#rt" x="324.0" y="591.0"/><use href="#rt" x="326.2" y="585.7"/><use href="#rt" x="328.5" y="592.2"/><use href="#rt" x="330.8" y="579.9"/><use href="#rt" x="333.0" y="583.0"/><use href="#rt" x="335.2" y="572.4"/><use href="#rt" x="337.5" y="573.1"/><use href="#rt" x="339.8" y="576.7"/><use href="#rt" x="342.0" y="576.0"/><use href="#rt" x="344.0" y="579.0"/><use href="#rt" x="346.0" y="575.7"/><use href="#rt" x="348.0" y="569.6"/><use href="#rt" x="350.0" y="565.0"/><use href="#rt" x="352.0" y="568.0"/><use href="#rt" x="354.0" y="576.1"/><use href="#rt" x="356.0" y="579.7"/><use href="#rt" x="358.0" y="571.9"/><use href="#rt" x="360.0" y="578.8"/><use href="#rt" x="362.0" y="578.0"/><use href="#rt" x="364.0" y="585.4"/><use href="#rt" x="366.0" y="568.4"/><use href="#rt" x="368.0" y="567.4"/><use href="#rt" x="370.0" y="559.9"/><use href="#rt" x="372.0" y="566.0"/><use href="#rt" x="374.0" y="569.1"/><use href="#rt" x="376.0" y="570.8"/><use href="#rt" x="378.0" y="569.3"/><use href="#rt" x="380.0" y="571.3"/><use href="#rt" x="382.0" y="573.0"/><use href="#rt" x="384.0" y="578.3"/><use href="#rt" x="386.0" y="562.1"/><use href="#rt" x="388.0" y="573.4"/><use href="#rt" x="390.0" y="558.8"/><use href="#rt" x="392.0" y="563.0"/><use href="#rt" x="394.2" y="571.2"/><use href="#rt" x="396.4" y="570.8"/><use href="#rt" x="398.6" y="563.3"/><use href="#rt" x="400.8" y="552.7"/><use href="#rt" x="403.0" y="560.0"/><use href="#rt" x="405.2" y="570.5"/><use href="#rt" x="407.4" y="566.5"/><use href="#rt" x="409.6" y="570.1"/><use href="#rt" x="411.8" y="560.7"/><use href="#rt" x="414.0" y="566.0"/><use href="#rt" x="416.2" y="568.8"/><use href="#rt" x="418.4" y="557.4"/><use href="#rt" x="420.6" y="568.2"/><use href="#rt" x="422.8" y="555.2"/><use href="#rt" x="425.0" y="558.0"/><use href="#rt" x="427.2" y="553.1"/><use href="#rt" x="429.4" y="555.4"/><use href="#rt" x="431.6" y="552.2"/><use href="#rt" x="433.8" y="559.4"/><use href="#rt" x="436.0" y="563.0"/><use href="#rt" x="438.0" y="554.3"/><use href="#rt" x="440.0" y="568.2"/><use href="#rt" x="442.0" y="562.1"/><use href="#rt" x="444.0" y="559.4"/><use href="#rt" x="446.0" y="547.0"/><use href="#rt" x="448.0" y="555.0"/><use href="#rt" x="450.0" y="563.9"/><use href="#rt" x="452.0" y="565.6"/><use href="#rt" x="454.0" y="559.7"/><use href="#rt" x="456.0" y="562.3"/><use href="#rt" x="458.0" y="568.3"/><use href="#rt" x="460.0" y="559.0"/><use href="#rt" x="462.0" y="559.7"/><use href="#rt" x="464.0" y="566.6"/><use href="#rt" x="466.0" y="562.5"/><use href="#rt" x="468.0" y="566.5"/><use href="#rt" x="470.0" y="558.0"/><use href="#rt" x="472.0" y="560.9"/><use href="#rt" x="474.0" y="563.8"/><use href="#rt" x="476.0" y="561.3"/><use href="#rt" x="478.0" y="556.1"/><use href="#rt" x="480.0" y="551.5"/><use href="#rt" x="482.0" y="553.0"/><use href="#rt" x="484.0" y="555.8"/><use href="#rt" x="486.0" y="557.1"/><use href="#rt" x="488.0" y="562.6"/><use href="#rt" x="490.0" y="553.4"/><use href="#rt" x="492.0" y="558.0"/><use href="#rt" x="494.0" y="557.0"/><use href="#rt" x="496.0" y="562.3"/><use href="#rt" x="498.0" y="559.0"/><use href="#rt" x="500.0" y="554.5"/><use href="#rt" x="502.0" y="545.6"/><use href="#rt" x="504.0" y="549.4"/><use href="#rt" x="506.0" y="548.0"/><use href="#rt" x="508.1" y="555.8"/><use href="#rt" x="510.2" y="536.9"/><use href="#rt" x="512.3" y="549.6"/><use href="#rt" x="514.3" y="538.8"/><use href="#rt" x="516.4" y="547.9"/><use href="#rt" x="518.5" y="551.9"/><use href="#rt" x="520.6" y="543.4"/><use href="#rt" x="522.5" y="547.7"/><use href="#rt" x="524.4" y="543.9"/><use href="#rt" x="526.3" y="554.5"/><use href="#rt" x="528.3" y="544.9"/><use href="#rt" x="530.2" y="544.4"/><use href="#rt" x="532.1" y="549.0"/><use href="#rt" x="534.0" y="550.0"/><use href="#rt" x="536.0" y="556.0"/><use href="#rt" x="538.0" y="557.0"/><use href="#rt" x="540.0" y="540.4"/><use href="#rt" x="542.0" y="541.5"/><use href="#rt" x="544.0" y="543.3"/><use href="#rt" x="546.0" y="544.0"/><use href="#rt" x="548.0" y="544.7"/><use href="#rt" x="550.0" y="552.4"/><use href="#rt" x="552.0" y="545.5"/><use href="#rt" x="554.0" y="538.0"/><use href="#rt" x="556.0" y="539.0"/><use href="#rt" x="558.0" y="549.0"/><use href="#rt" x="560.2" y="549.9"/><use href="#rt" x="562.4" y="553.8"/><use href="#rt" x="564.6" y="540.2"/><use href="#rt" x="566.8" y="537.5"/><use href="#rt" x="569.0" y="541.2"/><use href="#rt" x="571.2" y="546.0"/><use href="#rt" x="573.3" y="536.1"/><use href="#rt" x="575.5" y="543.3"/><use href="#rt" x="577.6" y="546.6"/><use href="#rt" x="579.7" y="551.8"/><use href="#rt" x="581.9" y="535.8"/><use href="#rt" x="584.0" y="541.0"/><use href="#rt" x="586.0" y="535.4"/><use href="#rt" x="588.0" y="542.1"/><use href="#rt" x="590.0" y="537.1"/><use href="#rt" x="592.0" y="541.2"/><use href="#rt" x="594.0" y="545.6"/><use href="#rt" x="596.0" y="546.0"/><use href="#rt" x="598.0" y="549.8"/><use href="#rt" x="600.0" y="549.2"/><use href="#rt" x="602.0" y="533.7"/><use href="#rt" x="604.0" y="545.1"/><use href="#rt" x="606.0" y="538.4"/><use href="#rt" x="608.0" y="538.0"/><use href="#rt" x="610.0" y="545.9"/><use href="#rt" x="611.9" y="538.7"/><use href="#rt" x="613.9" y="543.0"/><use href="#rt" x="615.8" y="536.0"/><use href="#rt" x="617.8" y="530.5"/><use href="#rt" x="619.7" y="542.5"/><use href="#rt" x="621.7" y="535.8"/><use href="#rt" x="623.8" y="541.4"/><use href="#rt" x="625.8" y="546.2"/><use href="#rt" x="627.9" y="548.9"/><use href="#rt" x="629.9" y="546.4"/><use href="#rt" x="632.0" y="550.0"/><use href="#rt" x="634.0" y="543.0"/><use href="#rt" x="636.2" y="536.2"/><use href="#rt" x="638.5" y="534.3"/><use href="#rt" x="640.8" y="537.1"/><use href="#rt" x="643.0" y="528.0"/><use href="#rt" x="645.2" y="517.8"/><use href="#rt" x="647.4" y="517.8"/><use href="#rt" x="649.6" y="525.8"/><use href="#rt" x="652.3" y="526.4"/><use href="#rt" x="655.0" y="540.0"/><use href="#rt" x="657.4" y="544.4"/><use href="#rt" x="659.8" y="530.2"/><use href="#rt" x="662.2" y="535.9"/><use href="#rt" x="664.1" y="544.4"/><use href="#rt" x="666.1" y="547.8"/><use href="#rt" x="668.0" y="548.0"/><use href="#rt" x="670.1" y="554.5"/><use href="#rt" x="672.3" y="561.2"/><use href="#rt" x="674.2" y="551.6"/><use href="#rt" x="676.1" y="559.1"/><use href="#rt" x="678.1" y="561.9"/><use href="#rt" x="680.0" y="556.0"/><use href="#rt" x="682.5" y="554.8"/><use href="#rt" x="685.0" y="553.9"/><use href="#rt" x="687.5" y="551.0"/><use href="#rt" x="690.0" y="554.3"/><use href="#rt" x="692.5" y="570.3"/><use href="#rt" x="695.0" y="568.0"/><use href="#rt" x="696.9" y="577.1"/><use href="#rt" x="698.9" y="572.6"/><use href="#rt" x="700.8" y="568.2"/><use href="#rt" x="702.7" y="576.3"/><use href="#rt" x="704.8" y="573.6"/><use href="#rt" x="706.9" y="561.3"/><use href="#rt" x="709.0" y="568.0"/><use href="#rt" x="711.1" y="566.1"/><use href="#rt" x="713.2" y="569.5"/><use href="#rt" x="715.3" y="561.2"/><use href="#rt" x="719.0" y="585.0"/><use href="#rt" x="721.0" y="590.6"/><use href="#rt" x="722.9" y="596.6"/><use href="#rt" x="725.5" y="589.6"/><use href="#rt" x="728.0" y="600.0"/><use href="#rt" x="730.5" y="601.6"/><use href="#rt" x="733.0" y="606.7"/><use href="#rt" x="735.0" y="611.8"/><use href="#rt" x="737.0" y="600.0"/><use href="#rt" x="740.6" y="604.2"/><use href="#rt" x="743.1" y="652.2"/><use href="#rt" x="745.5" y="640.6"/><use href="#rt" x="748.0" y="630.0"/><use href="#rt" x="750.6" y="649.9"/><use href="#rt" x="753.3" y="672.4"/><use href="#rt" x="755.8" y="657.7"/><use href="#rt" x="758.3" y="626.9"/><use href="#rt" x="760.9" y="654.7"/>
<path d="M239.8,732.6 L242.3,712.4 L244.7,713.0 L247.2,713.1 L249.6,711.1 L252.0,705.0 L254.6,703.4 L257.2,703.9 L259.9,697.2 L262.5,699.8 L265.0,700.4 L267.6,706.8 L270.1,706.4 L272.6,712.4 L275.1,715.3 L277.6,706.4 L280.2,705.0 L282.7,707.3 L285.2,708.6 L287.8,721.1 L290.3,722.5 L292.8,720.2 L295.3,727.2 L297.9,728.6 L300.4,726.3 L302.9,725.0 L305.4,726.4 L307.9,723.6 L310.5,713.9 L313.0,709.6 L315.5,709.9 L318.0,714.0 L320.6,727.7 L323.1,735.1 L325.6,737.5 L328.1,734.4 L330.7,736.8 L333.2,737.6 L335.7,736.2 L338.2,730.7 L340.8,729.1 L343.3,732.6 L345.8,720.9 L348.3,702.3 L350.9,705.7 L353.4,704.2 L356.0,704.0 L358.5,700.6 L361.0,710.8 L363.5,707.3 L366.0,720.0 L368.5,727.5 L371.0,727.8 L373.5,717.7 L376.0,715.0 L378.5,715.2 L381.1,712.4 L383.6,707.3 L386.1,715.9 L388.6,721.9 L391.2,720.9 L393.7,727.5 L396.2,733.0 L398.8,734.3 L401.3,729.4 L403.8,732.6 L406.5,725.2 L409.3,720.7 L412.0,720.0 L414.3,722.4 L416.7,710.4 L419.0,712.4 L421.5,715.3 L424.1,714.8 L426.6,723.2 L429.1,722.5 L431.6,720.9 L434.1,725.0 L436.6,719.9 L439.2,715.5 L441.7,722.8 L444.2,717.5 L446.7,719.1 L449.2,714.3 L451.8,717.1 L454.3,712.4 L456.8,710.2 L459.4,712.6 L461.9,706.9 L464.4,708.0 L467.0,701.9 L469.5,702.3 L472.1,697.7 L474.8,705.0 L477.4,700.3 L480.0,698.0 L482.5,696.9 L485.0,696.7 L487.5,703.2 L490.0,700.0 L492.6,702.3 L495.1,700.8 L497.7,700.9 L500.3,697.7 L502.7,701.6 L505.1,701.2 L507.6,705.1 L510.0,705.0 L512.6,710.8 L515.3,708.5 L518.0,709.5 L520.6,710.4 L523.1,699.4 L525.7,688.2 L528.2,672.4 L531.1,674.2 L534.0,670.0 L536.3,668.9 L538.5,668.1 L540.8,662.3 L543.3,656.9 L545.8,646.5 L548.4,640.3 L550.9,626.9 L553.5,613.7 L556.0,600.0 L558.5,594.1 L561.0,581.4 L563.5,583.0 L566.0,585.0 L568.6,582.8 L571.2,576.3 L573.7,568.8 L576.3,568.7 L578.8,563.7 L581.3,599.6 L583.9,637.0 L586.4,667.6 L588.9,692.7 L591.5,697.4 L594.0,697.7 L596.5,664.0 L599.0,637.0 L601.5,630.1 L604.1,622.0 L606.6,611.7 L609.1,604.6 L611.5,603.8 L614.0,604.0 L616.6,598.7 L619.1,597.5 L621.7,599.1 L624.4,589.9 L627.0,590.0 L629.5,578.2 L631.9,568.7 L634.4,577.2 L636.9,587.9 L639.4,591.5 L642.2,593.8 L645.0,598.0 L647.4,598.3 L649.7,603.7 L652.1,601.6 L655.0,602.2 L658.0,612.0 L662.2,621.9 L664.7,625.4 L667.2,635.4 L669.8,649.2 L672.3,652.2 L674.9,682.6 L677.4,740.7 L679.9,741.8 L682.5,745.9 L685.0,742.8 L687.5,748.3 L690.0,748.7 L692.5,752.5 L695.0,746.0 L697.5,742.3 L700.0,747.0 L702.6,747.4 L705.1,742.9 L707.7,750.2 L710.2,745.4 L712.8,745.8 L717.0,730.0 L720.0,719.4 L722.9,712.9 L725.4,709.2 L728.0,712.0 L730.5,702.9 L733.0,702.8 L735.5,699.4 L738.1,694.3 L740.6,692.7 L745.0,705.0 L747.9,711.4 L750.7,718.0 L753.2,716.5 L755.8,716.7 L758.4,712.1 L760.9,712.9" fill="none" stroke="#14953f" stroke-width="2.4" stroke-linejoin="round"/>
<use href="#bd" x="239.8" y="732.6"/><use href="#bd" x="242.3" y="712.4"/><use href="#bd" x="244.7" y="713.0"/><use href="#bd" x="247.2" y="713.1"/><use href="#bd" x="249.6" y="711.1"/><use href="#bd" x="252.0" y="705.0"/><use href="#bd" x="254.6" y="703.4"/><use href="#bd" x="257.2" y="703.9"/><use href="#bd" x="259.9" y="697.2"/><use href="#bd" x="262.5" y="699.8"/><use href="#bd" x="265.0" y="700.4"/><use href="#bd" x="267.6" y="706.8"/><use href="#bd" x="270.1" y="706.4"/><use href="#bd" x="272.6" y="712.4"/><use href="#bd" x="275.1" y="715.3"/><use href="#bd" x="277.6" y="706.4"/><use href="#bd" x="280.2" y="705.0"/><use href="#bd" x="282.7" y="707.3"/><use href="#bd" x="285.2" y="708.6"/><use href="#bd" x="287.8" y="721.1"/><use href="#bd" x="290.3" y="722.5"/><use href="#bd" x="292.8" y="720.2"/><use href="#bd" x="295.3" y="727.2"/><use href="#bd" x="297.9" y="728.6"/><use href="#bd" x="300.4" y="726.3"/><use href="#bd" x="302.9" y="725.0"/><use href="#bd" x="305.4" y="726.4"/><use href="#bd" x="307.9" y="723.6"/><use href="#bd" x="310.5" y="713.9"/><use href="#bd" x="313.0" y="709.6"/><use href="#bd" x="315.5" y="709.9"/><use href="#bd" x="318.0" y="714.0"/><use href="#bd" x="320.6" y="727.7"/><use href="#bd" x="323.1" y="735.1"/><use href="#bd" x="325.6" y="737.5"/><use href="#bd" x="328.1" y="734.4"/><use href="#bd" x="330.7" y="736.8"/><use href="#bd" x="333.2" y="737.6"/><use href="#bd" x="335.7" y="736.2"/><use href="#bd" x="338.2" y="730.7"/><use href="#bd" x="340.8" y="729.1"/><use href="#bd" x="343.3" y="732.6"/><use href="#bd" x="345.8" y="720.9"/><use href="#bd" x="348.3" y="702.3"/><use href="#bd" x="350.9" y="705.7"/><use href="#bd" x="353.4" y="704.2"/><use href="#bd" x="356.0" y="704.0"/><use href="#bd" x="358.5" y="700.6"/><use href="#bd" x="361.0" y="710.8"/><use href="#bd" x="363.5" y="707.3"/><use href="#bd" x="366.0" y="720.0"/><use href="#bd" x="368.5" y="727.5"/><use href="#bd" x="371.0" y="727.8"/><use href="#bd" x="373.5" y="717.7"/><use href="#bd" x="376.0" y="715.0"/><use href="#bd" x="378.5" y="715.2"/><use href="#bd" x="381.1" y="712.4"/><use href="#bd" x="383.6" y="707.3"/><use href="#bd" x="386.1" y="715.9"/><use href="#bd" x="388.6" y="721.9"/><use href="#bd" x="391.2" y="720.9"/><use href="#bd" x="393.7" y="727.5"/><use href="#bd" x="396.2" y="733.0"/><use href="#bd" x="398.8" y="734.3"/><use href="#bd" x="401.3" y="729.4"/><use href="#bd" x="403.8" y="732.6"/><use href="#bd" x="406.5" y="725.2"/><use href="#bd" x="409.3" y="720.7"/><use href="#bd" x="412.0" y="720.0"/><use href="#bd" x="414.3" y="722.4"/><use href="#bd" x="416.7" y="710.4"/><use href="#bd" x="419.0" y="712.4"/><use href="#bd" x="421.5" y="715.3"/><use href="#bd" x="424.1" y="714.8"/><use href="#bd" x="426.6" y="723.2"/><use href="#bd" x="429.1" y="722.5"/><use href="#bd" x="431.6" y="720.9"/><use href="#bd" x="434.1" y="725.0"/><use href="#bd" x="436.6" y="719.9"/><use href="#bd" x="439.2" y="715.5"/><use href="#bd" x="441.7" y="722.8"/><use href="#bd" x="444.2" y="717.5"/><use href="#bd" x="446.7" y="719.1"/><use href="#bd" x="449.2" y="714.3"/><use href="#bd" x="451.8" y="717.1"/><use href="#bd" x="454.3" y="712.4"/><use href="#bd" x="456.8" y="710.2"/><use href="#bd" x="459.4" y="712.6"/><use href="#bd" x="461.9" y="706.9"/><use href="#bd" x="464.4" y="708.0"/><use href="#bd" x="467.0" y="701.9"/><use href="#bd" x="469.5" y="702.3"/><use href="#bd" x="472.1" y="697.7"/><use href="#bd" x="474.8" y="705.0"/><use href="#bd" x="477.4" y="700.3"/><use href="#bd" x="480.0" y="698.0"/><use href="#bd" x="482.5" y="696.9"/><use href="#bd" x="485.0" y="696.7"/><use href="#bd" x="487.5" y="703.2"/><use href="#bd" x="490.0" y="700.0"/><use href="#bd" x="492.6" y="702.3"/><use href="#bd" x="495.1" y="700.8"/><use href="#bd" x="497.7" y="700.9"/><use href="#bd" x="500.3" y="697.7"/><use href="#bd" x="502.7" y="701.6"/><use href="#bd" x="505.1" y="701.2"/><use href="#bd" x="507.6" y="705.1"/><use href="#bd" x="510.0" y="705.0"/><use href="#bd" x="512.6" y="710.8"/><use href="#bd" x="515.3" y="708.5"/><use href="#bd" x="518.0" y="709.5"/><use href="#bd" x="520.6" y="710.4"/><use href="#bd" x="523.1" y="699.4"/><use href="#bd" x="525.7" y="688.2"/><use href="#bd" x="528.2" y="672.4"/><use href="#bd" x="531.1" y="674.2"/><use href="#bd" x="534.0" y="670.0"/><use href="#bd" x="536.3" y="668.9"/><use href="#bd" x="538.5" y="668.1"/><use href="#bd" x="540.8" y="662.3"/><use href="#bd" x="543.3" y="656.9"/><use href="#bd" x="545.8" y="646.5"/><use href="#bd" x="548.4" y="640.3"/><use href="#bd" x="550.9" y="626.9"/><use href="#bd" x="553.5" y="613.7"/><use href="#bd" x="556.0" y="600.0"/><use href="#bd" x="558.5" y="594.1"/><use href="#bd" x="561.0" y="581.4"/><use href="#bd" x="563.5" y="583.0"/><use href="#bd" x="566.0" y="585.0"/><use href="#bd" x="568.6" y="582.8"/><use href="#bd" x="571.2" y="576.3"/><use href="#bd" x="573.7" y="568.8"/><use href="#bd" x="576.3" y="568.7"/><use href="#bd" x="578.8" y="563.7"/><use href="#bd" x="581.3" y="599.6"/><use href="#bd" x="583.9" y="637.0"/><use href="#bd" x="586.4" y="667.6"/><use href="#bd" x="588.9" y="692.7"/><use href="#bd" x="591.5" y="697.4"/><use href="#bd" x="594.0" y="697.7"/><use href="#bd" x="596.5" y="664.0"/><use href="#bd" x="599.0" y="637.0"/><use href="#bd" x="601.5" y="630.1"/><use href="#bd" x="604.1" y="622.0"/><use href="#bd" x="606.6" y="611.7"/><use href="#bd" x="609.1" y="604.6"/><use href="#bd" x="611.5" y="603.8"/><use href="#bd" x="614.0" y="604.0"/><use href="#bd" x="616.6" y="598.7"/><use href="#bd" x="619.1" y="597.5"/><use href="#bd" x="621.7" y="599.1"/><use href="#bd" x="624.4" y="589.9"/><use href="#bd" x="627.0" y="590.0"/><use href="#bd" x="629.5" y="578.2"/><use href="#bd" x="631.9" y="568.7"/><use href="#bd" x="634.4" y="577.2"/><use href="#bd" x="636.9" y="587.9"/><use href="#bd" x="639.4" y="591.5"/><use href="#bd" x="642.2" y="593.8"/><use href="#bd" x="645.0" y="598.0"/><use href="#bd" x="647.4" y="598.3"/><use href="#bd" x="649.7" y="603.7"/><use href="#bd" x="652.1" y="601.6"/><use href="#bd" x="655.0" y="602.2"/><use href="#bd" x="658.0" y="612.0"/><use href="#bd" x="662.2" y="621.9"/><use href="#bd" x="664.7" y="625.4"/><use href="#bd" x="667.2" y="635.4"/><use href="#bd" x="669.8" y="649.2"/><use href="#bd" x="672.3" y="652.2"/><use href="#bd" x="674.9" y="682.6"/><use href="#bd" x="677.4" y="740.7"/><use href="#bd" x="679.9" y="741.8"/><use href="#bd" x="682.5" y="745.9"/><use href="#bd" x="685.0" y="742.8"/><use href="#bd" x="687.5" y="748.3"/><use href="#bd" x="690.0" y="748.7"/><use href="#bd" x="692.5" y="752.5"/><use href="#bd" x="695.0" y="746.0"/><use href="#bd" x="697.5" y="742.3"/><use href="#bd" x="700.0" y="747.0"/><use href="#bd" x="702.6" y="747.4"/><use href="#bd" x="705.1" y="742.9"/><use href="#bd" x="707.7" y="750.2"/><use href="#bd" x="710.2" y="745.4"/><use href="#bd" x="712.8" y="745.8"/><use href="#bd" x="717.0" y="730.0"/><use href="#bd" x="720.0" y="719.4"/><use href="#bd" x="722.9" y="712.9"/><use href="#bd" x="725.4" y="709.2"/><use href="#bd" x="728.0" y="712.0"/><use href="#bd" x="730.5" y="702.9"/><use href="#bd" x="733.0" y="702.8"/><use href="#bd" x="735.5" y="699.4"/><use href="#bd" x="738.1" y="694.3"/><use href="#bd" x="740.6" y="692.7"/><use href="#bd" x="745.0" y="705.0"/><use href="#bd" x="747.9" y="711.4"/><use href="#bd" x="750.7" y="718.0"/><use href="#bd" x="753.2" y="716.5"/><use href="#bd" x="755.8" y="716.7"/><use href="#bd" x="758.4" y="712.1"/><use href="#bd" x="760.9" y="712.9"/>
<path d="M236.3,894.1 C240.5,894.6 252.0,896.8 261.5,897.3 C271.0,897.8 282.6,898.3 293.1,897.3 C303.6,896.2 314.1,893.6 324.6,891.0 C335.1,888.4 343.1,886.0 356.2,881.5 C369.3,877.0 395.6,867.1 403.5,864.2 L438,842 L472.9,820" fill="none" stroke="#c9bc1e" stroke-width="3"/>
<path d="M472.9,820.0 C480.8,815.0 504.2,798.2 520.6,790.3 C537.0,782.4 554.4,776.7 571.2,772.6 C588.1,768.5 604.9,766.3 621.7,765.6 C638.6,764.9 659.2,767.4 672.3,768.5 C685.3,769.6 691.0,770.2 700.0,772.5 C709.0,774.8 718.7,778.8 726.4,782.4 C734.1,786.0 742.7,792.3 746.0,794.3" fill="none" stroke="#c9bc1e" stroke-width="3"/>
<path d="M236.3,843.7 L237.5,847.4 L238.8,847.7 L240.0,850.0 L241.5,850.0 L243.0,845.0 L244.4,855.5 L245.8,865.7 L247.0,842.0 L248.9,824.7 L251.0,840.0 L252.4,838.4 L253.8,840.3 L255.2,842.0 L256.3,838.5 L257.3,840.0 L258.4,838.5 L259.4,844.5 L260.5,843.5 L261.5,841.2 L262.6,839.6 L263.6,841.8 L264.7,845.7 L265.7,846.7 L266.8,843.7 L267.8,843.2 L268.9,839.6 L269.9,841.4 L271.0,843.7 L272.1,843.9 L273.1,852.2 L274.2,851.5 L275.2,853.6 L276.3,853.2 L277.4,850.9 L278.4,848.5 L279.4,854.1 L280.5,849.6 L281.6,849.7 L282.6,849.5 L283.6,847.0 L284.7,854.4 L285.8,850.1 L286.8,850.0 L287.9,855.2 L288.9,857.2 L290.0,860.5 L291.0,859.8 L292.1,869.3 L293.1,868.9 L294.4,867.5 L295.6,861.2 L296.9,864.9 L298.1,859.0 L299.4,857.9 L300.5,861.5 L301.5,865.9 L302.6,868.3 L303.6,867.1 L304.7,868.3 L305.7,868.4 L306.8,869.8 L307.8,877.3 L308.9,876.8 L310.1,873.1 L311.2,865.9 L312.4,864.4 L313.6,862.6 L314.7,861.9 L315.9,865.3 L317.0,872.7 L318.1,870.5 L319.2,876.6 L320.4,876.7 L321.5,876.8 L322.6,874.6 L323.6,879.6 L324.7,878.2 L325.7,878.2 L326.8,876.1 L327.8,876.0 L328.9,873.9 L329.9,882.0 L331.0,878.4 L332.1,878.1 L333.1,879.3 L334.1,873.2 L335.2,878.1 L336.2,870.1 L337.3,872.1 L338.5,870.5 L339.6,875.2 L340.8,880.5 L342.0,876.0 L343.2,879.4 L344.4,880.3 L345.5,881.8 L346.7,886.2 L347.8,885.5 L349.0,877.4 L350.1,881.9 L351.2,878.8 L352.3,873.5 L353.5,873.6 L354.6,868.9 L356.2,889.4 L357.2,890.7 L358.3,890.0 L359.4,884.0 L360.4,885.7 L361.4,885.1 L362.5,886.7 L363.6,882.4 L364.6,885.3 L365.6,888.6 L366.7,885.8 L367.8,884.1 L368.8,883.1 L369.9,889.4 L370.9,889.2 L372.0,894.1 L373.1,897.7 L374.2,889.4 L375.4,895.0 L376.5,891.4 L377.6,887.2 L378.7,890.2 L379.9,889.2 L381.0,887.3 L382.1,888.5 L383.2,890.2 L384.3,889.8 L385.5,885.1 L386.6,886.7 L387.7,886.2 L388.8,887.7 L389.8,881.3 L390.9,881.0 L391.9,879.1 L392.9,876.6 L394.0,872.1 L395.1,880.3 L396.1,884.1 L397.2,887.8 L398.3,892.2 L399.3,890.5 L400.4,894.3 L401.4,887.2 L402.5,890.6 L403.5,890.1 L404.6,890.4 L405.6,898.5 L406.7,895.7 L407.8,895.0 L408.8,898.7 L409.9,892.1 L410.9,895.3 L411.9,891.7 L413.0,891.9 L414.1,895.9 L415.1,894.1 L416.1,893.0 L417.2,890.8 L418.2,891.1 L419.3,891.0 L420.4,891.5 L421.5,887.4 L422.7,887.7 L423.8,893.1 L424.9,891.4 L426.0,890.0 L427.1,887.9 L428.3,888.3 L429.4,884.8 L430.5,886.9 L431.6,884.4 L432.8,888.9 L433.9,882.1 L435.0,884.7 L436.1,887.7 L437.1,881.5 L438.2,884.8 L439.2,883.6 L440.3,889.2 L441.3,889.8 L442.4,887.6 L443.4,890.6 L444.5,889.7 L445.5,884.1 L446.6,889.0 L447.6,888.2 L448.7,887.4 L449.7,887.9 L450.8,889.4 L451.9,890.7 L452.9,886.2 L454.0,890.1 L455.0,887.6 L456.1,886.8 L457.1,890.6 L458.2,892.2 L459.2,887.8 L460.3,891.6 L461.3,893.1 L462.4,892.0 L463.4,894.7 L464.5,888.3 L465.5,892.7 L466.6,892.6 L467.7,890.0 L468.7,892.7 L469.8,895.8 L470.8,896.4 L471.9,890.7 L472.9,896.6 L474.0,896.7 L475.0,892.5 L476.1,897.2 L477.1,889.5 L478.2,894.7 L479.2,895.9 L480.3,891.1 L481.3,894.3 L482.4,894.1 L483.5,891.8 L484.6,894.8 L485.8,896.5 L486.9,893.4 L488.0,893.9 L489.1,895.1 L490.2,893.7 L491.4,891.0 L492.5,895.8 L493.6,896.6 L494.7,892.1 L495.9,895.7 L497.0,895.7 L498.1,895.7 L499.2,893.0 L500.2,895.8 L501.3,896.2 L502.3,891.5 L503.4,892.1 L504.4,890.6 L505.5,891.7 L506.5,894.2 L507.6,891.0" fill="none" stroke="#111" stroke-width="1.7" stroke-linejoin="miter"/>
<use href="#as" x="307.3" y="902.0"/>
<text x="264" y="941.7" font-size="20.5" text-anchor="start" textLength="69" lengthAdjust="spacingAndGlyphs" stroke="#231f20" stroke-width="0.35" >Saharan</text>
<text x="265" y="1017.5" font-size="20.5" text-anchor="start" textLength="54" lengthAdjust="spacingAndGlyphs" stroke="#231f20" stroke-width="0.35" >Acacia</text>
<text x="263" y="1121" font-size="20.5" text-anchor="start" textLength="70.3" lengthAdjust="spacingAndGlyphs" stroke="#231f20" stroke-width="0.35" >Poaceae</text>
<text x="263" y="1226" font-size="20.5" text-anchor="start" textLength="153.6" lengthAdjust="spacingAndGlyphs" stroke="#231f20" stroke-width="0.35" >Tropical plant taxa</text>
<use href="#cow" fill="#111" transform="translate(356,901) scale(1.04,0.97) translate(-544,-55.5)"/>
<use href="#goat" fill="#2a2526" transform="translate(362.4,949) scale(1.02,0.99) translate(-498.2,-79.4)"/>
<use href="#as" x="237.6" y="991.0"/><use href="#as" x="243.3" y="991.0"/><use href="#as" x="248.7" y="995.0"/><use href="#as" x="254.0" y="991.0"/><use href="#as" x="259.1" y="995.0"/><use href="#as" x="264.1" y="991.0"/><use href="#as" x="269.2" y="991.0"/><use href="#as" x="273.9" y="991.0"/><use href="#as" x="240.8" y="997.0"/><use href="#as" x="251.5" y="997.0"/><use href="#as" x="261.6" y="997.0"/><use href="#as" x="357.5" y="996.0"/><use href="#as" x="360.0" y="996.0"/><use href="#as" x="362.2" y="993.0"/><use href="#as" x="364.4" y="996.0"/><use href="#as" x="367.0" y="996.0"/><use href="#as" x="371.7" y="996.0"/><use href="#as" x="378.0" y="996.0"/><use href="#as" x="385.9" y="996.0"/><use href="#as" x="395.3" y="996.0"/><use href="#as" x="406.4" y="996.0"/><use href="#as" x="417.4" y="996.0"/><use href="#as" x="433.2" y="996.0"/><use href="#as" x="449.0" y="993.0"/><use href="#as" x="460.0" y="996.0"/><use href="#as" x="472.6" y="996.0"/><use href="#as" x="483.7" y="996.0"/><use href="#as" x="501.0" y="996.0"/><use href="#as" x="285.0" y="960.5"/><use href="#as" x="291.2" y="966.8"/><use href="#as" x="283.4" y="976.3"/><use href="#as" x="288.1" y="981.0"/><use href="#as" x="299.1" y="988.9"/><use href="#as" x="321.2" y="954.2"/><use href="#as" x="311.8" y="968.4"/><use href="#as" x="316.5" y="971.5"/><use href="#as" x="310.2" y="976.3"/><use href="#as" x="319.6" y="970.0"/><use href="#as" x="332.3" y="965.2"/><use href="#as" x="340.1" y="965.2"/><use href="#as" x="351.2" y="963.7"/><use href="#as" x="335.4" y="976.3"/><use href="#as" x="346.5" y="977.9"/><use href="#as" x="329.1" y="984.2"/><use href="#as" x="304.0" y="986.0"/><use href="#as" x="314.0" y="964.0"/>
<use href="#pc" x="236.0" y="1011.0"/><use href="#pc" x="264.4" y="1021.4"/><use href="#pc" x="247.1" y="1026.8"/><use href="#pc" x="286.5" y="1028.3"/><use href="#pc" x="292.8" y="1023.6"/><use href="#pc" x="307.0" y="1025.2"/><use href="#pc" x="318.1" y="1029.9"/><use href="#pc" x="338.6" y="1022.6"/><use href="#pc" x="280.2" y="1034.6"/><use href="#pc" x="299.1" y="1036.2"/><use href="#pc" x="242.4" y="1044.1"/><use href="#pc" x="253.4" y="1039.4"/><use href="#pc" x="259.7" y="1039.4"/><use href="#pc" x="273.9" y="1042.5"/><use href="#pc" x="291.2" y="1040.3"/><use href="#pc" x="302.3" y="1042.5"/><use href="#pc" x="310.2" y="1039.4"/><use href="#pc" x="313.3" y="1042.5"/><use href="#pc" x="321.2" y="1044.1"/><use href="#pc" x="343.3" y="1043.5"/><use href="#pc" x="351.2" y="1043.5"/><use href="#pc" x="363.8" y="1041.0"/><use href="#pc" x="401.7" y="1044.1"/><use href="#pc" x="409.5" y="1044.1"/><use href="#pc" x="439.5" y="1044.1"/><use href="#pc" x="453.7" y="1042.5"/><use href="#pc" x="504.2" y="1042.5"/><use href="#pc" x="475.8" y="1025.2"/><use href="#pc" x="237.0" y="1052.9"/><use href="#pc" x="242.4" y="1053.4"/><use href="#pc" x="248.3" y="1048.6"/><use href="#pc" x="250.8" y="1055.5"/><use href="#pc" x="256.6" y="1050.1"/><use href="#pc" x="264.5" y="1052.2"/><use href="#pc" x="268.7" y="1052.3"/><use href="#pc" x="272.9" y="1049.4"/><use href="#pc" x="277.7" y="1055.8"/><use href="#pc" x="282.2" y="1054.7"/><use href="#pc" x="287.7" y="1048.6"/><use href="#pc" x="292.9" y="1053.3"/><use href="#pc" x="296.0" y="1048.3"/><use href="#pc" x="303.2" y="1052.3"/><use href="#pc" x="307.5" y="1055.9"/><use href="#pc" x="312.4" y="1056.3"/><use href="#pc" x="316.0" y="1055.2"/><use href="#pc" x="321.1" y="1056.4"/><use href="#pc" x="327.7" y="1048.9"/><use href="#pc" x="329.6" y="1050.0"/><use href="#pc" x="337.9" y="1051.9"/><use href="#pc" x="341.4" y="1050.7"/><use href="#pc" x="345.8" y="1051.5"/><use href="#pc" x="350.1" y="1053.3"/><use href="#pc" x="355.9" y="1056.1"/><use href="#pc" x="361.2" y="1056.4"/><use href="#pc" x="366.8" y="1056.9"/><use href="#pc" x="371.0" y="1049.5"/><use href="#pc" x="376.6" y="1056.7"/><use href="#pc" x="381.7" y="1053.1"/><use href="#pc" x="385.9" y="1049.9"/><use href="#pc" x="391.2" y="1053.2"/><use href="#pc" x="393.9" y="1048.6"/><use href="#pc" x="401.1" y="1056.9"/><use href="#pc" x="403.0" y="1055.2"/><use href="#pc" x="409.1" y="1049.4"/><use href="#pc" x="413.6" y="1054.9"/><use href="#pc" x="420.8" y="1048.4"/><use href="#pc" x="424.7" y="1048.4"/><use href="#pc" x="430.0" y="1051.0"/><use href="#pc" x="435.5" y="1056.8"/><use href="#pc" x="438.9" y="1057.0"/><use href="#pc" x="443.0" y="1048.7"/><use href="#pc" x="449.1" y="1048.3"/><use href="#pc" x="452.4" y="1051.7"/><use href="#pc" x="458.9" y="1049.4"/><use href="#pc" x="461.6" y="1055.8"/><use href="#pc" x="467.6" y="1056.6"/><use href="#pc" x="474.8" y="1051.4"/><use href="#pc" x="477.9" y="1052.7"/><use href="#pc" x="483.6" y="1053.4"/><use href="#pc" x="488.1" y="1053.6"/><use href="#pc" x="494.6" y="1052.6"/><use href="#pc" x="497.4" y="1054.5"/><use href="#pc" x="501.6" y="1050.7"/>
<path d="M237.6,1171.5 L239.7,1165.8 L241.8,1153.9 L243.9,1149.4 L246.0,1157.1 L248.1,1150.6 L250.2,1157.3 L252.6,1154.1 L255.0,1147.8 L257.3,1143.6 L259.7,1127.3 L262.9,1152.6 L265.0,1152.9 L267.1,1156.4 L269.2,1155.7 L272.3,1168.3 L274.4,1159.5 L276.5,1149.9 L278.6,1149.4 L280.7,1155.6 L282.8,1160.2 L284.9,1158.9 L287.0,1155.4 L289.1,1145.5 L291.2,1146.2 L293.3,1155.6 L295.5,1148.8 L297.6,1155.7 L299.7,1157.9 L301.8,1151.3 L303.9,1152.6 L306.0,1142.2 L308.1,1138.2 L310.2,1130.5 L312.5,1141.7 L314.9,1155.7 L317.3,1149.9 L319.6,1154.1 L321.7,1160.0 L323.8,1157.0 L325.9,1157.3 L328.0,1150.1 L330.2,1149.6 L332.3,1149.4 L334.4,1140.2 L336.5,1132.8 L338.6,1130.5 L340.7,1138.3 L342.8,1145.5 L344.9,1155.7 L347.0,1158.4 L349.1,1148.0 L351.2,1152.6 L353.1,1149.1 L355.0,1143.7 L356.9,1140.6 L358.8,1144.3 L360.6,1143.1 L362.5,1147.5 L364.4,1137.5 L366.3,1142.7 L368.2,1135.2 L370.1,1139.9 L372.0,1139.8 L373.9,1132.6 L375.8,1127.4 L377.7,1133.3 L379.6,1124.2 L381.5,1120.5 L383.4,1133.2 L385.3,1126.6 L387.1,1137.0 L389.0,1136.8 L390.9,1133.4 L392.8,1138.9 L394.7,1139.2 L396.6,1138.3 L398.5,1133.6 L400.4,1140.9 L402.3,1139.8 L404.2,1145.8 L406.1,1146.6 L408.0,1146.2 L410.1,1135.7 L412.2,1136.8 L414.3,1130.5 L416.6,1140.8 L419.0,1158.9 L422.2,1121.0 L424.5,1134.7 L426.9,1136.8 L429.0,1141.3 L431.1,1135.6 L433.2,1133.6 L435.3,1132.8 L437.4,1133.0 L439.5,1124.2 L441.6,1131.7 L443.7,1123.7 L445.8,1130.5 L447.9,1120.0 L450.0,1125.8 L452.1,1117.9 L454.2,1113.9 L456.3,1123.8 L458.4,1121.0 L460.5,1122.6 L462.6,1118.0 L464.7,1111.5 L466.9,1108.4 L469.0,1122.6 L471.1,1121.0 L473.2,1116.7 L475.3,1114.6 L477.4,1114.7 L479.5,1113.6 L481.6,1108.7 L483.7,1111.5 L485.8,1105.1 L487.9,1101.1 L490.0,1103.7 L492.1,1101.0 L494.2,1108.4 L496.3,1110.0 L498.7,1107.0 L501.0,1100.5 L503.4,1097.5 L505.8,1106.8" fill="none" stroke="#2e3d9a" stroke-width="1.2"/>
<use href="#oc" x="319.6" y="1102.7"/><use href="#oc" x="352.1" y="1122.6"/><use href="#oc" x="333.8" y="1130.5"/><use href="#oc" x="340.1" y="1132.1"/><use href="#oc" x="344.9" y="1138.4"/><use href="#oc" x="348.0" y="1144.7"/><use href="#oc" x="323.4" y="1155.7"/><use href="#oc" x="328.5" y="1165.8"/><use href="#oc" x="259.7" y="1147.8"/><use href="#oc" x="264.4" y="1158.9"/><use href="#oc" x="284.9" y="1148.8"/><use href="#oc" x="296.0" y="1145.6"/><use href="#oc" x="303.9" y="1144.7"/><use href="#oc" x="275.5" y="1174.6"/><use href="#oc" x="272.3" y="1182.5"/><use href="#oc" x="277.1" y="1181.6"/><use href="#oc" x="282.7" y="1173.1"/><use href="#oc" x="288.1" y="1177.8"/><use href="#oc" x="298.5" y="1172.1"/><use href="#oc" x="237.6" y="1182.5"/><use href="#oc" x="242.4" y="1180.3"/><use href="#oc" x="248.7" y="1184.7"/><use href="#oc" x="237.6" y="1187.3"/><use href="#oc" x="262.2" y="1180.3"/><use href="#oc" x="354.3" y="1180.3"/><use href="#oc" x="359.1" y="1184.1"/><use href="#oc" x="363.2" y="1175.3"/><use href="#oc" x="365.4" y="1187.3"/><use href="#oc" x="370.1" y="1182.5"/><use href="#oc" x="382.1" y="1182.5"/><use href="#oc" x="387.5" y="1186.6"/><use href="#oc" x="393.8" y="1184.1"/><use href="#oc" x="398.5" y="1184.1"/><use href="#oc" x="403.2" y="1184.1"/><use href="#oc" x="408.6" y="1169.3"/><use href="#oc" x="414.3" y="1182.5"/><use href="#oc" x="419.0" y="1176.2"/><use href="#oc" x="422.2" y="1175.6"/><use href="#oc" x="424.4" y="1182.8"/><use href="#oc" x="430.0" y="1168.3"/><use href="#oc" x="432.6" y="1168.3"/><use href="#oc" x="444.2" y="1178.4"/><use href="#oc" x="439.5" y="1142.5"/><use href="#oc" x="455.3" y="1142.5"/><use href="#oc" x="459.1" y="1142.5"/><use href="#oc" x="463.5" y="1154.1"/><use href="#oc" x="447.4" y="1095.1"/><use href="#oc" x="449.6" y="1099.6"/><use href="#oc" x="453.7" y="1102.7"/><use href="#oc" x="490.0" y="1091.0"/><use href="#oc" x="493.1" y="1117.9"/><use href="#oc" x="486.2" y="1134.3"/><use href="#oc" x="504.2" y="990.5"/><use href="#oc" x="479.9" y="1011.0"/><use href="#oc" x="471.0" y="1045.7"/><use href="#oc" x="474.2" y="1051.0"/><use href="#oc" x="307.0" y="1069.3"/>
<use href="#rd" x="237.6" y="1249.2"/><use href="#rd" x="243.9" y="1249.2"/><use href="#rd" x="258.1" y="1247.2"/><use href="#rd" x="262.2" y="1247.2"/><use href="#rd" x="277.1" y="1247.2"/><use href="#rd" x="281.8" y="1249.2"/><use href="#rd" x="299.1" y="1247.2"/><use href="#rd" x="303.9" y="1247.2"/><use href="#rd" x="316.5" y="1247.2"/><use href="#rd" x="319.6" y="1249.2"/><use href="#rd" x="346.5" y="1247.2"/><use href="#rd" x="351.2" y="1249.2"/><use href="#rd" x="355.9" y="1247.2"/><use href="#rd" x="373.3" y="1247.2"/><use href="#rd" x="378.0" y="1247.2"/><use href="#rd" x="382.7" y="1249.2"/><use href="#rd" x="389.0" y="1249.2"/><use href="#rd" x="401.7" y="1249.2"/><use href="#rd" x="408.0" y="1249.2"/><use href="#rd" x="414.3" y="1249.2"/><use href="#rd" x="419.0" y="1247.2"/><use href="#rd" x="423.7" y="1247.2"/><use href="#rd" x="426.9" y="1249.2"/><use href="#rd" x="430.0" y="1247.2"/><use href="#rd" x="433.2" y="1249.2"/><use href="#rd" x="436.4" y="1247.2"/><use href="#rd" x="439.5" y="1249.2"/><use href="#rd" x="442.7" y="1247.2"/><use href="#rd" x="349.6" y="1235.2"/><use href="#rd" x="433.2" y="1237.7"/><use href="#rd" x="439.5" y="1240.9"/><use href="#rd" x="442.7" y="1248.8"/><use href="#rd" x="452.1" y="1225.1"/><use href="#rd" x="456.9" y="1223.5"/><use href="#rd" x="466.3" y="1220.4"/><use href="#rd" x="452.1" y="1212.5"/><use href="#rd" x="460.0" y="1212.5"/><use href="#rd" x="471.1" y="1192.0"/><use href="#rd" x="474.2" y="1188.8"/><use href="#rd" x="486.8" y="1234.6"/><use href="#rd" x="493.1" y="1209.3"/><use href="#rd" x="499.4" y="1208.7"/><use href="#rd" x="502.6" y="1208.7"/><use href="#rd" x="493.1" y="1215.6"/><use href="#rd" x="477.4" y="1136.8"/><use href="#rd" x="504.2" y="1132.1"/>
<use href="#oc" x="262.8" y="1265.8"/><use href="#oc" x="274.4" y="1287.2"/><use href="#oc" x="282.3" y="1282.5"/><use href="#oc" x="287.1" y="1287.2"/><use href="#oc" x="291.2" y="1278.4"/><use href="#oc" x="296.5" y="1289.4"/><use href="#oc" x="299.7" y="1281.5"/><use href="#oc" x="303.8" y="1275.2"/><use href="#oc" x="311.7" y="1273.7"/><use href="#oc" x="307.6" y="1288.8"/><use href="#oc" x="316.4" y="1286.3"/><use href="#oc" x="320.2" y="1265.8"/><use href="#oc" x="324.9" y="1278.4"/><use href="#oc" x="331.8" y="1268.0"/><use href="#oc" x="339.1" y="1286.3"/><use href="#oc" x="343.8" y="1270.5"/><use href="#oc" x="347.9" y="1273.0"/><use href="#oc" x="351.1" y="1268.0"/><use href="#oc" x="355.5" y="1276.8"/><use href="#oc" x="358.0" y="1271.5"/><use href="#oc" x="289.3" y="1296.7"/><use href="#oc" x="280.7" y="1308.4"/><use href="#oc" x="285.5" y="1306.2"/><use href="#oc" x="294.3" y="1306.2"/><use href="#oc" x="362.8" y="1309.0"/><use href="#oc" x="372.2" y="1289.4"/><use href="#oc" x="381.7" y="1306.8"/><use href="#oc" x="386.4" y="1297.3"/><use href="#oc" x="395.9" y="1309.0"/><use href="#oc" x="404.4" y="1309.0"/><use href="#oc" x="410.1" y="1293.5"/><use href="#oc" x="415.4" y="1293.5"/><use href="#oc" x="426.8" y="1321.9"/><use href="#oc" x="441.6" y="1304.3"/><use href="#oc" x="444.1" y="1305.2"/><use href="#oc" x="455.2" y="1318.5"/><use href="#oc" x="481.1" y="1337.7"/><use href="#oc" x="491.2" y="1334.5"/><use href="#oc" x="511.0" y="1358.8"/><use href="#oc" x="516.4" y="1358.8"/><use href="#oc" x="525.9" y="1344.6"/><use href="#oc" x="534.1" y="1354.7"/><use href="#oc" x="241.3" y="1327.3"/><use href="#oc" x="247.6" y="1335.2"/><use href="#oc" x="250.8" y="1335.2"/><use href="#oc" x="511.0" y="1358.8"/><use href="#oc" x="517.4" y="1358.8"/><use href="#oc" x="525.2" y="1344.6"/><use href="#oc" x="535.3" y="1354.7"/><use href="#oc" x="537.9" y="1354.7"/><use href="#oc" x="541.0" y="1348.4"/><use href="#oc" x="545.7" y="1347.8"/><use href="#oc" x="549.8" y="1355.0"/><use href="#oc" x="555.2" y="1354.1"/><use href="#oc" x="560.6" y="1338.3"/><use href="#oc" x="571.9" y="1325.1"/><use href="#oc" x="581.4" y="1325.1"/><use href="#oc" x="593.1" y="1351.6"/><use href="#oc" x="600.3" y="1344.6"/><use href="#oc" x="607.3" y="1350.9"/><use href="#oc" x="612.9" y="1350.9"/><use href="#oc" x="617.4" y="1355.7"/><use href="#oc" x="628.7" y="1362.6"/><use href="#oc" x="635.6" y="1348.4"/><use href="#oc" x="646.1" y="1368.9"/><use href="#oc" x="654.6" y="1345.3"/><use href="#oc" x="667.2" y="1359.5"/><use href="#oc" x="671.9" y="1372.1"/><use href="#oc" x="682.3" y="1354.1"/><use href="#oc" x="690.2" y="1346.8"/><use href="#oc" x="700.9" y="1335.2"/><use href="#oc" x="715.5" y="1331.1"/><use href="#oc" x="724.6" y="1314.7"/><use href="#oc" x="746.7" y="1274.6"/><use href="#oc" x="753.3" y="1295.7"/><use href="#oc" x="760.9" y="1295.7"/><use href="#oc" x="768.8" y="1313.1"/>
<use href="#cow" fill="#111" transform="translate(392.7,1262.6) scale(1.015,0.925) translate(-544,-55.5)"/>
<use href="#goat" fill="#2a2526" transform="translate(402.2,1311.5) scale(1.05,1.01) translate(-498.2,-79.4)"/>
<line x1="511" y1="1316.9" x2="548.9" y2="1316.9" stroke="#5a5a5a" stroke-width="2" />
<line x1="530" y1="1299.5" x2="550.5" y2="1299.5" stroke="#5a5a5a" stroke-width="2" />
<line x1="561.5" y1="1297.3" x2="638.8" y2="1297.3" stroke="#5a5a5a" stroke-width="2" />
<line x1="583.6" y1="1304.3" x2="646.7" y2="1304.3" stroke="#5a5a5a" stroke-width="2" />
<line x1="657.7" y1="1294.8" x2="752.4" y2="1294.8" stroke="#5a5a5a" stroke-width="2" />
<line x1="700.3" y1="1305.2" x2="785.5" y2="1305.2" stroke="#5a5a5a" stroke-width="2" />
<line x1="495" y1="1332.6" x2="514.2" y2="1332.6" stroke="#5a5a5a" stroke-width="2" />
<line x1="340" y1="1348.4" x2="395" y2="1348.4" stroke="#5a5a5a" stroke-width="2" />
<line x1="360" y1="1341.5" x2="392" y2="1341.5" stroke="#5a5a5a" stroke-width="2" />
<line x1="370" y1="1363.6" x2="402" y2="1363.6" stroke="#5a5a5a" stroke-width="2" />
<line x1="395" y1="1367.7" x2="424" y2="1367.7" stroke="#5a5a5a" stroke-width="2" />
<line x1="430" y1="1385.6" x2="458" y2="1385.6" stroke="#5a5a5a" stroke-width="2" />
<line x1="450" y1="1306.8" x2="478" y2="1306.8" stroke="#5a5a5a" stroke-width="2" />
<line x1="460" y1="1300.5" x2="490" y2="1300.5" stroke="#5a5a5a" stroke-width="2" />
<line x1="475" y1="1294.2" x2="505" y2="1294.2" stroke="#5a5a5a" stroke-width="2" />
<line x1="480" y1="1300.5" x2="512" y2="1300.5" stroke="#5a5a5a" stroke-width="2" />
<line x1="508" y1="1298.9" x2="536" y2="1298.9" stroke="#5a5a5a" stroke-width="2" />
<line x1="488" y1="1332" x2="520" y2="1332" stroke="#5a5a5a" stroke-width="2" />
<line x1="265" y1="1497.4" x2="296" y2="1497.4" stroke="#5a5a5a" stroke-width="2" />
<line x1="333" y1="1484.1" x2="356" y2="1484.1" stroke="#5a5a5a" stroke-width="2" />
<line x1="430" y1="1434.3" x2="458" y2="1434.3" stroke="#5a5a5a" stroke-width="2" />
<rect x="348.6" y="1344.4" width="39.4" height="8" rx="4" fill="#000"/>
<rect x="366.9" y="1337.5" width="16.4" height="8" rx="4" fill="#000"/>
<rect x="378.5" y="1359.6" width="15.8" height="8" rx="4" fill="#000"/>
<rect x="400.6" y="1363.7" width="15.8" height="8" rx="4" fill="#000"/>
<rect x="436.9" y="1381.6" width="14.2" height="8" rx="4" fill="#000"/>
<rect x="457.4" y="1302.8" width="15.8" height="8" rx="4" fill="#000"/>
<rect x="465.3" y="1296.5" width="15.7" height="8" rx="4" fill="#000"/>
<rect x="481.0" y="1290.2" width="17.4" height="8" rx="4" fill="#000"/>
<rect x="484.2" y="1296.5" width="23.7" height="8" rx="4" fill="#000"/>
<rect x="514.2" y="1294.9" width="17.3" height="8" rx="4" fill="#000"/>
<rect x="520.5" y="1312.9" width="15.8" height="8" rx="4" fill="#000"/>
<rect x="493.7" y="1328.0" width="14.2" height="8" rx="4" fill="#000"/>
<rect x="500.0" y="1296.5" width="9.5" height="8" rx="4" fill="#000"/>
<rect x="583.6" y="1291.7" width="20.5" height="8" rx="4" fill="#000"/>
<rect x="608.8" y="1300.3" width="14.2" height="8" rx="4" fill="#000"/>
<rect x="643.5" y="1290.8" width="14.2" height="8" rx="4" fill="#000"/>
<rect x="686.1" y="1290.8" width="14.2" height="8" rx="4" fill="#000"/>
<rect x="711.4" y="1290.8" width="14.2" height="8" rx="4" fill="#000"/>
<rect x="736.6" y="1300.3" width="14.2" height="8" rx="4" fill="#000"/>
<rect x="500.0" y="1328.6" width="8.0" height="8" rx="4" fill="#000"/>
<rect x="272.9" y="1493.4" width="15.7" height="8" rx="4" fill="#000"/>
<rect x="339.0" y="1480.1" width="11.0" height="8" rx="4" fill="#000"/>
<rect x="436.9" y="1430.3" width="15.8" height="8" rx="4" fill="#000"/>
<path d="M249.2,1496.1 C254.2,1496.2 267.4,1497.9 279.2,1496.7 C291.0,1495.5 309.7,1491.2 320.2,1488.8 C330.7,1486.4 338.4,1484.9 342.3,1482.5 C346.2,1480.1 343.0,1483.8 343.8,1474.6 C344.6,1465.4 345.7,1443.1 347.0,1427.3 C348.3,1411.5 350.4,1392.2 351.7,1380.0 C353.0,1367.8 354.4,1358.4 354.9,1354.1" fill="none" stroke="#000" stroke-width="2.6" stroke-dasharray="9,6"/>
<path d="M389.6,1376.2 C392.2,1381.0 399.5,1396.2 405.3,1405.2 C411.1,1414.2 418.5,1423.9 424.3,1430.5 C430.1,1437.1 436.6,1442.3 440.0,1444.7 C443.4,1447.1 444.0,1444.7 444.8,1444.7" fill="none" stroke="#000" stroke-width="2.6" stroke-dasharray="9,6"/>
<path d="M462.1,1316.2 C461.6,1327.9 459.5,1371.5 459.0,1386.3 C458.5,1401.1 459.5,1398.4 459.0,1405.2 C458.5,1412.0 456.9,1422.0 455.8,1427.3 C454.8,1432.6 453.2,1435.2 452.7,1436.8" fill="none" stroke="#000" stroke-width="2.6" stroke-dasharray="9,6"/>
<path d="M525.2,1316.9 C527.8,1317.9 535.7,1321.2 541.0,1322.6 C546.3,1324.0 552.3,1325.1 556.8,1325.1 C561.3,1325.1 563.3,1325.4 567.8,1322.6 C572.3,1319.8 579.1,1312.9 583.6,1308.4 C588.1,1303.9 588.5,1297.6 594.6,1295.7 C600.7,1293.8 611.6,1296.8 620.0,1297.0 C628.4,1297.2 639.2,1296.2 645.0,1297.0 C650.8,1297.8 652.0,1299.3 654.6,1302.0 C657.2,1304.7 658.0,1309.7 660.9,1313.1 C663.8,1316.5 668.5,1322.1 671.9,1322.6 C675.3,1323.1 678.5,1319.4 681.4,1316.2 C684.3,1313.0 685.9,1308.1 689.3,1303.6 C692.7,1299.1 697.2,1291.5 701.9,1289.4 C706.6,1287.3 712.5,1289.4 717.7,1291.0 C723.0,1292.6 727.6,1295.8 733.4,1298.9 C739.2,1302.1 746.6,1306.2 752.4,1309.9 C758.2,1313.6 764.2,1318.8 768.1,1321.0 C772.0,1323.2 774.7,1322.8 776.0,1323.2" fill="none" stroke="#000" stroke-width="2.6" stroke-dasharray="9,6"/>
<line x1="455.8" y1="1283.8" x2="523.6" y2="1283.8" stroke="#000" stroke-width="2.6" stroke-dasharray="9,6"/>
<text x="609" y="1343.7" font-size="20" text-anchor="start" textLength="69.4" lengthAdjust="spacingAndGlyphs" stroke="#231f20" stroke-width="0.35" >Poaceae</text>
<text x="607.6" y="1433.2" font-size="20" text-anchor="start" textLength="71.4" lengthAdjust="spacingAndGlyphs" stroke="#231f20" stroke-width="0.35" >Guinean</text>
<text x="610" y="1493" font-size="20" text-anchor="start" textLength="80" lengthAdjust="spacingAndGlyphs" stroke="#231f20" stroke-width="0.35" >Sudanian</text>
<use href="#gs" x="250.8" y="1502.4"/><use href="#gs" x="263.4" y="1517.2"/><use href="#gs" x="269.7" y="1515.0"/><use href="#gs" x="276.0" y="1512.5"/><use href="#gs" x="282.3" y="1509.3"/><use href="#gs" x="285.5" y="1511.9"/><use href="#gs" x="290.2" y="1514.1"/><use href="#gs" x="294.9" y="1515.6"/><use href="#gs" x="301.2" y="1510.9"/><use href="#gs" x="307.6" y="1509.3"/><use href="#gs" x="315.4" y="1506.2"/><use href="#gs" x="320.2" y="1515.6"/><use href="#gs" x="326.5" y="1514.1"/><use href="#gs" x="335.9" y="1507.8"/><use href="#gs" x="342.3" y="1512.5"/><use href="#gs" x="353.3" y="1509.3"/><use href="#gs" x="356.5" y="1506.2"/><use href="#gs" x="361.2" y="1498.3"/><use href="#gs" x="370.6" y="1504.6"/><use href="#gs" x="380.1" y="1498.3"/><use href="#gs" x="389.6" y="1499.2"/><use href="#gs" x="405.3" y="1499.2"/><use href="#gs" x="411.7" y="1501.5"/><use href="#gs" x="427.4" y="1503.0"/><use href="#gs" x="436.9" y="1504.6"/><use href="#gs" x="444.8" y="1509.3"/><use href="#gs" x="455.8" y="1510.0"/><use href="#gs" x="462.1" y="1512.5"/><use href="#gs" x="470.0" y="1507.8"/><use href="#gs" x="492.1" y="1507.8"/><use href="#gs" x="501.6" y="1514.1"/><use href="#gs" x="518.9" y="1511.9"/><use href="#gs" x="272.9" y="1518.8"/><use href="#gs" x="291.8" y="1518.8"/><use href="#gs" x="310.7" y="1516.3"/><use href="#gs" x="329.6" y="1517.2"/><use href="#gs" x="348.6" y="1515.6"/><use href="#gs" x="279.2" y="1515.0"/><use href="#gs" x="298.1" y="1512.5"/><use href="#gs" x="313.9" y="1514.1"/><use href="#gs" x="339.1" y="1515.6"/><use href="#gs" x="364.3" y="1512.5"/><use href="#gs" x="373.8" y="1504.6"/><use href="#gs" x="384.8" y="1503.0"/><use href="#gs" x="394.3" y="1504.6"/><use href="#gs" x="430.6" y="1506.2"/><use href="#gs" x="440.0" y="1505.6"/><use href="#gs" x="470.0" y="1508.1"/><use href="#gs" x="492.8" y="1509.6"/><use href="#gs" x="500.3" y="1513.1"/><use href="#gs" x="519.1" y="1511.6"/><use href="#gs" x="558.5" y="1509.6"/><use href="#gs" x="571.2" y="1515.7"/><use href="#gs" x="575.2" y="1514.7"/><use href="#gs" x="585.3" y="1508.1"/><use href="#gs" x="592.9" y="1506.6"/><use href="#gs" x="605.6" y="1509.6"/><use href="#gs" x="618.2" y="1503.0"/><use href="#gs" x="632.9" y="1498.0"/><use href="#gs" x="642.0" y="1504.0"/><use href="#gs" x="648.6" y="1505.6"/><use href="#gs" x="654.6" y="1509.6"/><use href="#gs" x="668.8" y="1508.1"/><use href="#gs" x="679.9" y="1503.0"/><use href="#gs" x="686.5" y="1505.6"/><use href="#gs" x="702.7" y="1509.6"/><use href="#gs" x="707.7" y="1513.1"/><use href="#gs" x="715.3" y="1508.1"/><use href="#gs" x="720.4" y="1513.1"/><use href="#gs" x="731.5" y="1517.2"/><use href="#gs" x="745.7" y="1508.1"/>
<use href="#rd" x="241.3" y="1522.0"/><use href="#rd" x="247.6" y="1522.0"/><use href="#rd" x="253.9" y="1522.0"/><use href="#rd" x="257.1" y="1523.5"/><use href="#rd" x="269.7" y="1523.5"/><use href="#rd" x="280.7" y="1521.3"/><use href="#rd" x="301.2" y="1522.0"/><use href="#rd" x="306.0" y="1522.0"/><use href="#rd" x="329.6" y="1522.0"/><use href="#rd" x="348.6" y="1522.0"/><use href="#rd" x="361.2" y="1520.4"/><use href="#rd" x="364.3" y="1522.0"/><use href="#rd" x="370.6" y="1522.0"/><use href="#rd" x="375.4" y="1522.0"/><use href="#rd" x="380.1" y="1522.0"/><use href="#rd" x="388.0" y="1522.6"/><use href="#rd" x="397.5" y="1522.0"/><use href="#rd" x="410.1" y="1521.3"/><use href="#rd" x="413.2" y="1521.3"/><use href="#rd" x="377.0" y="1515.0"/><use href="#rd" x="386.4" y="1516.3"/><use href="#rd" x="425.9" y="1506.8"/><use href="#rd" x="435.3" y="1509.3"/><use href="#rd" x="441.6" y="1505.6"/><use href="#rd" x="454.2" y="1489.8"/><use href="#rd" x="462.1" y="1494.2"/><use href="#rd" x="480.4" y="1475.3"/><use href="#rd" x="492.1" y="1468.3"/><use href="#rd" x="500.9" y="1460.4"/><use href="#rd" x="505.7" y="1442.1"/><use href="#rd" x="516.4" y="1447.2"/><use href="#rd" x="526.8" y="1454.8"/><use href="#rd" x="532.2" y="1449.4"/><use href="#rd" x="480.1" y="1475.2"/><use href="#rd" x="491.2" y="1467.6"/><use href="#rd" x="501.4" y="1460.0"/><use href="#rd" x="506.4" y="1442.3"/><use href="#rd" x="516.5" y="1447.4"/><use href="#rd" x="526.7" y="1455.0"/><use href="#rd" x="531.7" y="1448.4"/><use href="#rd" x="536.8" y="1447.4"/><use href="#rd" x="544.9" y="1465.1"/><use href="#rd" x="555.0" y="1457.5"/><use href="#rd" x="580.3" y="1477.7"/><use href="#rd" x="592.4" y="1455.0"/><use href="#rd" x="603.0" y="1455.0"/><use href="#rd" x="616.7" y="1460.0"/><use href="#rd" x="629.3" y="1444.9"/><use href="#rd" x="636.9" y="1461.0"/><use href="#rd" x="646.0" y="1443.3"/><use href="#rd" x="662.2" y="1458.5"/><use href="#rd" x="671.3" y="1438.3"/><use href="#rd" x="678.9" y="1457.5"/><use href="#rd" x="686.5" y="1457.5"/><use href="#rd" x="705.2" y="1476.2"/><use href="#rd" x="715.3" y="1484.3"/><use href="#rd" x="722.9" y="1502.0"/><use href="#rd" x="728.0" y="1498.0"/><use href="#rd" x="735.6" y="1520.7"/><use href="#rd" x="755.8" y="1520.7"/><use href="#rd" x="760.9" y="1521.7"/>
<path d="M235.0,1753.5 C245.5,1751.1 277.1,1744.5 298.1,1739.3 C319.1,1734.0 340.2,1729.1 361.2,1722.0 C382.2,1714.9 403.3,1706.2 424.3,1696.7 C445.3,1687.2 468.9,1673.6 487.4,1665.2 C505.8,1656.8 523.1,1650.9 535.0,1646.2 C546.9,1641.5 545.1,1640.6 558.9,1637.1 C572.7,1633.6 598.2,1627.4 617.8,1625.3 C637.4,1623.2 659.5,1623.7 676.7,1624.7 C693.9,1625.7 708.5,1628.2 720.8,1631.2 C733.1,1634.2 745.4,1640.5 750.3,1642.4" fill="none" stroke="#d2c21c" stroke-width="3"/>
<path d="M239.7,1756.7 C240.1,1757.7 241.3,1760.6 242.1,1762.5 C242.9,1764.3 243.7,1768.4 244.5,1767.7 C245.3,1767.0 246.1,1760.9 246.8,1758.5 C247.6,1756.2 248.5,1755.2 249.2,1753.5 C249.9,1751.8 250.5,1749.4 251.2,1748.1 C251.8,1746.8 252.5,1745.9 253.2,1745.6 C253.8,1745.3 254.5,1746.7 255.1,1746.5 C255.8,1746.2 256.3,1745.3 257.1,1744.0 C257.9,1742.7 259.0,1741.0 260.0,1738.9 C260.9,1736.8 262.0,1727.7 262.8,1731.4 C263.6,1735.1 264.1,1757.7 265.0,1761.4 C265.9,1765.1 267.2,1756.2 268.1,1753.5 C269.0,1750.8 269.7,1747.6 270.5,1745.0 C271.3,1742.4 272.1,1738.4 272.9,1737.7 C273.6,1737.0 274.3,1739.0 275.0,1740.8 C275.7,1742.6 276.4,1746.7 277.1,1748.3 C277.8,1749.9 278.5,1752.2 279.2,1750.3 C279.9,1748.4 280.8,1740.5 281.5,1736.8 C282.3,1733.2 283.1,1729.4 283.9,1728.3 C284.7,1727.2 285.5,1728.8 286.2,1730.4 C287.0,1732.0 287.8,1737.4 288.6,1737.7 C289.4,1738.0 290.2,1733.1 291.0,1732.0 C291.8,1731.0 292.6,1730.7 293.4,1731.4 C294.2,1732.1 295.0,1735.5 295.8,1736.0 C296.5,1736.5 297.3,1734.4 298.1,1734.6 C298.9,1734.8 299.7,1736.0 300.5,1737.0 C301.2,1738.1 302.0,1740.9 302.8,1740.9 C303.6,1740.9 304.4,1739.4 305.2,1737.3 C306.0,1735.2 306.9,1729.6 307.6,1728.3 C308.4,1727.0 309.0,1729.0 309.7,1729.4 C310.4,1729.8 311.1,1729.5 311.8,1730.7 C312.5,1731.8 313.2,1734.7 313.9,1736.2 C314.6,1737.7 315.2,1739.5 315.9,1739.4 C316.5,1739.3 317.2,1735.3 317.9,1735.6 C318.5,1735.9 319.2,1740.4 319.8,1741.2 C320.5,1742.1 321.1,1741.2 321.8,1740.9 C322.5,1740.6 323.2,1739.3 323.9,1739.3 C324.6,1739.2 325.3,1740.7 326.0,1740.7 C326.7,1740.7 327.4,1739.3 328.1,1739.3 C328.8,1739.3 329.4,1740.4 330.1,1740.7 C330.7,1741.1 331.4,1740.8 332.1,1741.4 C332.7,1741.9 333.4,1743.6 334.0,1744.0 C334.7,1744.4 335.3,1744.3 336.0,1744.0 C336.7,1743.7 337.3,1743.9 337.9,1742.1 C338.6,1740.3 339.2,1735.2 339.9,1733.2 C340.5,1731.3 341.2,1731.3 341.9,1730.5 C342.5,1729.6 343.1,1727.9 343.8,1728.3 C344.5,1728.7 345.1,1732.0 345.8,1733.1 C346.4,1734.2 347.1,1734.2 347.8,1734.9 C348.4,1735.5 349.1,1735.8 349.7,1736.8 C350.4,1737.8 351.0,1740.9 351.7,1740.9 C352.4,1740.9 353.0,1737.0 353.7,1736.8 C354.3,1736.7 355.0,1740.5 355.6,1739.9 C356.3,1739.3 357.0,1734.2 357.6,1733.4 C358.3,1732.5 358.9,1734.5 359.6,1734.6 C360.3,1734.7 360.9,1733.4 361.6,1733.7 C362.2,1733.9 362.9,1734.8 363.6,1736.1 C364.2,1737.4 364.9,1740.4 365.5,1741.4 C366.2,1742.5 366.8,1741.9 367.5,1742.5 C368.2,1743.1 368.8,1744.4 369.5,1745.2 C370.1,1746.0 370.8,1747.3 371.4,1747.3 C372.1,1747.3 372.8,1744.7 373.4,1745.2 C374.1,1745.7 374.7,1749.9 375.4,1750.3 C376.1,1750.7 376.7,1749.2 377.4,1747.6 C378.0,1745.9 378.7,1741.6 379.4,1740.5 C380.0,1739.3 380.7,1741.6 381.3,1740.6 C382.0,1739.7 382.6,1735.1 383.3,1734.6 C384.0,1734.1 384.6,1738.0 385.3,1737.5 C385.9,1737.1 386.6,1731.9 387.2,1731.8 C387.9,1731.7 388.6,1736.5 389.2,1736.9 C389.9,1737.4 390.5,1735.4 391.2,1734.6 C391.9,1733.8 392.5,1733.3 393.1,1732.1 C393.8,1731.0 394.5,1728.7 395.1,1727.7 C395.8,1726.6 396.4,1726.3 397.1,1725.7 C397.7,1725.0 398.3,1722.7 399.0,1723.5 C399.7,1724.3 400.3,1729.2 401.0,1730.3 C401.6,1731.3 402.3,1728.8 402.9,1729.8 C403.6,1730.8 404.3,1734.8 404.9,1736.4 C405.6,1737.9 406.2,1738.9 406.9,1739.3 C407.6,1739.7 408.2,1738.5 408.9,1738.9 C409.5,1739.4 410.2,1741.4 410.9,1741.9 C411.5,1742.4 412.2,1742.3 412.8,1741.9 C413.5,1741.4 414.1,1740.3 414.8,1739.3 C415.5,1738.3 416.1,1736.2 416.8,1735.9 C417.4,1735.6 418.1,1737.6 418.8,1737.4 C419.4,1737.2 420.1,1735.7 420.7,1734.7 C421.4,1733.7 422.0,1732.9 422.7,1731.4 C423.4,1729.9 424.3,1726.6 425.0,1725.5 C425.8,1724.5 426.6,1725.5 427.4,1725.1 C428.2,1724.7 429.0,1723.5 429.8,1723.0 C430.6,1722.5 431.4,1721.2 432.2,1722.0 C433.0,1722.8 433.8,1726.9 434.5,1728.0 C435.3,1729.0 436.2,1729.5 436.9,1728.3 C437.6,1727.1 438.2,1722.7 438.8,1720.8 C439.4,1718.9 440.1,1718.5 440.7,1716.9 C441.3,1715.2 441.8,1710.6 442.6,1710.9 C443.4,1711.2 444.9,1716.8 445.7,1718.8 C446.5,1720.8 447.0,1721.3 447.6,1723.2 C448.2,1725.0 448.8,1727.8 449.5,1729.8 C450.2,1731.8 450.9,1733.7 451.6,1735.1 C452.3,1736.4 453.0,1737.3 453.7,1737.7 C454.4,1738.1 454.9,1736.4 455.8,1737.7 C456.7,1739.0 457.9,1745.8 459.0,1745.6 C460.1,1745.3 461.2,1738.0 462.1,1736.2 C463.0,1734.4 463.5,1735.7 464.2,1734.7 C464.9,1733.7 465.6,1731.3 466.3,1730.2 C467.0,1729.1 467.7,1729.8 468.4,1728.3 C469.1,1726.8 470.0,1724.3 470.7,1721.4 C471.5,1718.6 472.3,1714.2 473.1,1711.1 C473.8,1708.0 474.7,1706.5 475.4,1703.0 C476.1,1699.5 476.8,1694.8 477.4,1690.0 C478.1,1685.3 478.8,1680.0 479.5,1674.6 C480.2,1669.2 480.9,1662.3 481.6,1657.8 C482.3,1653.2 483.0,1651.5 483.7,1647.5 C484.4,1643.5 484.9,1636.4 485.8,1633.6 C486.7,1630.8 487.9,1628.7 489.0,1630.5 C490.1,1632.3 491.2,1643.3 492.1,1644.7 C493.0,1646.1 493.7,1640.2 494.5,1639.2 C495.2,1638.1 495.9,1638.4 496.8,1638.4 C497.7,1638.4 498.7,1637.7 499.6,1638.9 C500.6,1640.1 501.6,1645.2 502.5,1645.6 C503.4,1646.0 504.3,1642.5 505.2,1641.3 C506.1,1640.1 507.0,1639.9 507.9,1638.4 C508.8,1636.9 509.7,1634.6 510.6,1632.2 C511.4,1629.8 512.4,1625.1 513.2,1624.2 C514.0,1623.3 514.6,1625.0 515.3,1626.9 C516.0,1628.7 516.7,1633.0 517.4,1635.1 C518.1,1637.2 518.7,1638.1 519.5,1639.3 C520.3,1640.5 521.2,1641.8 522.0,1642.4 C522.9,1643.0 523.8,1642.2 524.6,1643.1 C525.4,1644.0 526.0,1646.1 526.7,1647.6 C527.4,1649.1 528.1,1650.7 528.8,1651.9 C529.5,1653.1 530.2,1657.7 530.9,1654.8 C531.6,1651.9 532.4,1640.4 533.1,1634.8 C533.8,1629.1 534.6,1621.9 535.3,1620.9 C536.0,1619.9 536.6,1625.8 537.3,1628.7 C537.9,1631.7 538.6,1634.9 539.2,1638.8 C539.9,1642.6 540.5,1651.2 541.2,1651.8 C541.9,1652.4 542.7,1646.3 543.4,1642.3 C544.1,1638.4 544.9,1630.5 545.6,1628.3 C546.3,1626.1 547.1,1627.8 547.8,1629.4 C548.6,1631.0 549.3,1635.9 550.0,1637.7 C550.8,1639.5 551.5,1639.7 552.3,1640.3 C553.0,1640.9 553.8,1642.8 554.5,1641.5 C555.2,1640.2 555.8,1635.4 556.5,1632.7 C557.1,1630.0 557.8,1627.5 558.4,1625.3 C559.1,1623.0 559.7,1620.2 560.4,1619.4 C561.1,1618.6 561.7,1621.0 562.4,1620.3 C563.0,1619.7 563.7,1616.0 564.3,1615.4 C565.0,1614.7 565.6,1615.4 566.3,1616.5 C567.0,1617.6 567.8,1620.1 568.5,1622.1 C569.2,1624.1 570.0,1628.1 570.7,1628.3 C571.4,1628.5 572.0,1624.7 572.7,1623.2 C573.3,1621.8 574.0,1621.3 574.6,1619.7 C575.3,1618.1 576.0,1614.1 576.6,1613.6 C577.2,1613.1 577.9,1615.6 578.5,1616.5 C579.2,1617.4 579.8,1618.2 580.5,1619.2 C581.1,1620.2 581.7,1623.6 582.4,1622.4 C583.1,1621.2 583.9,1615.1 584.6,1612.1 C585.4,1609.2 586.0,1605.0 586.9,1604.7 C587.8,1604.4 588.9,1609.2 589.8,1610.6 C590.7,1612.0 591.4,1612.9 592.3,1613.3 C593.1,1613.6 593.9,1612.7 594.7,1612.5 C595.6,1612.3 596.4,1612.7 597.2,1612.1 C598.0,1611.5 598.7,1609.2 599.4,1609.2 C600.1,1609.1 600.9,1611.4 601.6,1611.6 C602.3,1611.9 603.1,1610.6 603.8,1610.6 C604.5,1610.7 605.3,1612.1 606.0,1612.1 C606.7,1612.1 607.4,1610.6 608.1,1610.5 C608.7,1610.4 609.4,1612.4 610.1,1611.7 C610.8,1611.0 611.5,1607.0 612.2,1606.5 C612.9,1605.9 613.6,1608.5 614.2,1608.4 C614.9,1608.4 615.6,1606.7 616.3,1606.2 C617.0,1605.7 617.8,1606.5 618.5,1605.7 C619.2,1604.9 620.0,1602.8 620.7,1601.5 C621.4,1600.1 622.2,1597.9 622.9,1597.5 C623.6,1597.0 624.3,1598.2 625.1,1598.8 C625.9,1599.4 626.7,1599.5 627.6,1600.9 C628.4,1602.3 629.2,1606.0 630.0,1607.3 C630.9,1608.7 631.7,1608.4 632.5,1609.1 C633.3,1609.8 633.9,1611.3 634.6,1611.4 C635.2,1611.4 635.9,1609.2 636.6,1609.3 C637.3,1609.5 638.0,1612.2 638.7,1612.5 C639.4,1612.8 640.1,1610.7 640.7,1611.1 C641.4,1611.5 642.1,1615.4 642.8,1615.0 C643.5,1614.6 644.1,1609.7 644.8,1608.8 C645.5,1607.9 646.1,1610.5 646.8,1609.4 C647.5,1608.3 648.1,1603.7 648.8,1601.9 C649.5,1600.2 650.1,1599.4 650.8,1598.8 C651.5,1598.2 652.1,1597.4 652.7,1598.6 C653.4,1599.8 654.0,1604.1 654.7,1605.8 C655.3,1607.6 656.0,1607.8 656.6,1608.9 C657.3,1610.0 657.9,1611.7 658.6,1612.3 C659.2,1612.8 659.8,1613.2 660.5,1612.1 C661.2,1611.0 661.8,1607.4 662.5,1605.9 C663.1,1604.5 663.8,1605.2 664.5,1603.5 C665.1,1601.8 665.8,1597.2 666.4,1595.7 C667.1,1594.2 667.6,1594.4 668.4,1594.4 C669.2,1594.4 670.2,1595.9 671.0,1595.9 C671.9,1595.9 672.9,1593.8 673.7,1594.4 C674.5,1595.0 675.2,1596.8 676.0,1599.3 C676.7,1601.7 677.5,1607.0 678.2,1609.1 C678.9,1611.2 679.5,1611.5 680.1,1611.9 C680.8,1612.3 681.4,1611.6 682.1,1611.6 C682.7,1611.6 683.3,1611.1 684.0,1612.1 C684.7,1613.1 685.5,1616.3 686.2,1617.7 C687.0,1619.2 687.8,1621.4 688.5,1620.9 C689.2,1620.4 690.0,1617.8 690.7,1614.8 C691.4,1611.9 692.2,1602.7 692.9,1603.3 C693.6,1603.9 694.4,1613.7 695.1,1618.4 C695.8,1623.0 696.5,1630.1 697.3,1631.2 C698.1,1632.3 699.1,1627.9 700.0,1624.7 C700.8,1621.6 701.7,1614.6 702.6,1612.1 C703.5,1609.6 704.3,1609.6 705.1,1609.6 C705.9,1609.6 706.8,1610.9 707.6,1612.1 C708.4,1613.3 709.1,1616.2 709.8,1617.0 C710.5,1617.7 711.3,1616.4 712.0,1616.5 C712.7,1616.6 713.3,1617.2 714.0,1617.9 C714.6,1618.6 715.3,1619.4 715.9,1620.7 C716.6,1621.9 717.2,1624.6 717.9,1625.3 C718.6,1626.0 719.4,1625.0 720.1,1624.8 C720.8,1624.6 721.6,1624.7 722.3,1623.9 C723.0,1623.1 723.8,1620.3 724.5,1620.1 C725.2,1619.8 726.0,1622.7 726.7,1622.4 C727.4,1622.1 728.0,1618.7 728.7,1618.3 C729.3,1617.8 730.0,1619.6 730.6,1619.8 C731.3,1619.9 731.9,1619.9 732.6,1619.4 C733.3,1618.9 733.9,1617.1 734.6,1616.8 C735.2,1616.6 735.9,1618.0 736.5,1617.9 C737.2,1617.9 737.8,1616.7 738.5,1616.5 C739.2,1616.3 739.8,1616.8 740.5,1616.5 C741.1,1616.2 741.8,1614.3 742.4,1614.6 C743.1,1614.8 743.7,1617.0 744.4,1618.0 C745.1,1619.0 745.7,1619.7 746.4,1620.3 C747.0,1620.9 747.7,1621.1 748.3,1621.5 C749.0,1621.8 749.6,1623.2 750.3,1622.4 C751.0,1621.6 751.6,1617.3 752.3,1616.5 C752.9,1615.8 753.6,1618.4 754.2,1617.9 C754.9,1617.4 755.5,1613.7 756.2,1613.6 C756.9,1613.5 757.5,1616.6 758.2,1617.0 C758.8,1617.4 759.5,1616.4 760.1,1616.0 C760.8,1615.7 761.4,1615.3 762.1,1615.0 C762.8,1614.7 763.6,1614.7 764.3,1614.2 C765.0,1613.7 766.1,1612.4 766.5,1612.1" fill="none" stroke="#111" stroke-width="2.7"/>
<use href="#gr" x="239.7" y="1756.7"/><use href="#gr" x="242.1" y="1762.5"/><use href="#gr" x="244.5" y="1767.7"/><use href="#gr" x="246.8" y="1758.5"/><use href="#gr" x="249.2" y="1753.5"/><use href="#gr" x="251.2" y="1748.1"/><use href="#gr" x="253.2" y="1745.6"/><use href="#gr" x="255.1" y="1746.5"/><use href="#gr" x="257.1" y="1744.0"/><use href="#gr" x="260.0" y="1738.9"/><use href="#gr" x="262.8" y="1731.4"/><use href="#gr" x="265.0" y="1761.4"/><use href="#gr" x="268.1" y="1753.5"/><use href="#gr" x="270.5" y="1745.0"/><use href="#gr" x="272.9" y="1737.7"/><use href="#gr" x="275.0" y="1740.8"/><use href="#gr" x="277.1" y="1748.3"/><use href="#gr" x="279.2" y="1750.3"/><use href="#gr" x="281.5" y="1736.8"/><use href="#gr" x="283.9" y="1728.3"/><use href="#gr" x="286.2" y="1730.4"/><use href="#gr" x="288.6" y="1737.7"/><use href="#gr" x="291.0" y="1732.0"/><use href="#gr" x="293.4" y="1731.4"/><use href="#gr" x="295.8" y="1736.0"/><use href="#gr" x="298.1" y="1734.6"/><use href="#gr" x="300.5" y="1737.0"/><use href="#gr" x="302.8" y="1740.9"/><use href="#gr" x="305.2" y="1737.3"/><use href="#gr" x="307.6" y="1728.3"/><use href="#gr" x="309.7" y="1729.4"/><use href="#gr" x="311.8" y="1730.7"/><use href="#gr" x="313.9" y="1736.2"/><use href="#gr" x="315.9" y="1739.4"/><use href="#gr" x="317.9" y="1735.6"/><use href="#gr" x="319.8" y="1741.2"/><use href="#gr" x="321.8" y="1740.9"/><use href="#gr" x="323.9" y="1739.3"/><use href="#gr" x="326.0" y="1740.7"/><use href="#gr" x="328.1" y="1739.3"/><use href="#gr" x="330.1" y="1740.7"/><use href="#gr" x="332.1" y="1741.4"/><use href="#gr" x="334.0" y="1744.0"/><use href="#gr" x="336.0" y="1744.0"/><use href="#gr" x="337.9" y="1742.1"/><use href="#gr" x="339.9" y="1733.2"/><use href="#gr" x="341.9" y="1730.5"/><use href="#gr" x="343.8" y="1728.3"/><use href="#gr" x="345.8" y="1733.1"/><use href="#gr" x="347.8" y="1734.9"/><use href="#gr" x="349.7" y="1736.8"/><use href="#gr" x="351.7" y="1740.9"/><use href="#gr" x="353.7" y="1736.8"/><use href="#gr" x="355.6" y="1739.9"/><use href="#gr" x="357.6" y="1733.4"/><use href="#gr" x="359.6" y="1734.6"/><use href="#gr" x="361.6" y="1733.7"/><use href="#gr" x="363.6" y="1736.1"/><use href="#gr" x="365.5" y="1741.4"/><use href="#gr" x="367.5" y="1742.5"/><use href="#gr" x="369.5" y="1745.2"/><use href="#gr" x="371.4" y="1747.3"/><use href="#gr" x="373.4" y="1745.2"/><use href="#gr" x="375.4" y="1750.3"/><use href="#gr" x="377.4" y="1747.6"/><use href="#gr" x="379.4" y="1740.5"/><use href="#gr" x="381.3" y="1740.6"/><use href="#gr" x="383.3" y="1734.6"/><use href="#gr" x="385.3" y="1737.5"/><use href="#gr" x="387.2" y="1731.8"/><use href="#gr" x="389.2" y="1736.9"/><use href="#gr" x="391.2" y="1734.6"/><use href="#gr" x="393.1" y="1732.1"/><use href="#gr" x="395.1" y="1727.7"/><use href="#gr" x="397.1" y="1725.7"/><use href="#gr" x="399.0" y="1723.5"/><use href="#gr" x="401.0" y="1730.3"/><use href="#gr" x="402.9" y="1729.8"/><use href="#gr" x="404.9" y="1736.4"/><use href="#gr" x="406.9" y="1739.3"/><use href="#gr" x="408.9" y="1738.9"/><use href="#gr" x="410.9" y="1741.9"/><use href="#gr" x="412.8" y="1741.9"/><use href="#gr" x="414.8" y="1739.3"/><use href="#gr" x="416.8" y="1735.9"/><use href="#gr" x="418.8" y="1737.4"/><use href="#gr" x="420.7" y="1734.7"/><use href="#gr" x="422.7" y="1731.4"/><use href="#gr" x="425.0" y="1725.5"/><use href="#gr" x="427.4" y="1725.1"/><use href="#gr" x="429.8" y="1723.0"/><use href="#gr" x="432.2" y="1722.0"/><use href="#gr" x="434.5" y="1728.0"/><use href="#gr" x="436.9" y="1728.3"/><use href="#gr" x="438.8" y="1720.8"/><use href="#gr" x="440.7" y="1716.9"/><use href="#gr" x="442.6" y="1710.9"/><use href="#gr" x="445.7" y="1718.8"/><use href="#gr" x="447.6" y="1723.2"/><use href="#gr" x="449.5" y="1729.8"/><use href="#gr" x="451.6" y="1735.1"/><use href="#gr" x="453.7" y="1737.7"/><use href="#gr" x="455.8" y="1737.7"/><use href="#gr" x="459.0" y="1745.6"/><use href="#gr" x="462.1" y="1736.2"/><use href="#gr" x="464.2" y="1734.7"/><use href="#gr" x="466.3" y="1730.2"/><use href="#gr" x="468.4" y="1728.3"/><use href="#gr" x="470.7" y="1721.4"/><use href="#gr" x="473.1" y="1711.1"/><use href="#gr" x="475.4" y="1703.0"/><use href="#gr" x="477.4" y="1690.0"/><use href="#gr" x="479.5" y="1674.6"/><use href="#gr" x="481.6" y="1657.8"/><use href="#gr" x="483.7" y="1647.5"/><use href="#gr" x="485.8" y="1633.6"/><use href="#gr" x="489.0" y="1630.5"/><use href="#gr" x="492.1" y="1644.7"/><use href="#gr" x="494.5" y="1639.2"/><use href="#gr" x="496.8" y="1638.4"/><use href="#gr" x="499.6" y="1638.9"/><use href="#gr" x="502.5" y="1645.6"/><use href="#gr" x="505.2" y="1641.3"/><use href="#gr" x="507.9" y="1638.4"/><use href="#gr" x="510.6" y="1632.2"/><use href="#gr" x="513.2" y="1624.2"/><use href="#gr" x="515.3" y="1626.9"/><use href="#gr" x="517.4" y="1635.1"/><use href="#gr" x="519.5" y="1639.3"/><use href="#gr" x="522.0" y="1642.4"/><use href="#gr" x="524.6" y="1643.1"/><use href="#gr" x="526.7" y="1647.6"/><use href="#gr" x="528.8" y="1651.9"/><use href="#gr" x="530.9" y="1654.8"/><use href="#gr" x="533.1" y="1634.8"/><use href="#gr" x="535.3" y="1620.9"/><use href="#gr" x="537.3" y="1628.7"/><use href="#gr" x="539.2" y="1638.8"/><use href="#gr" x="541.2" y="1651.8"/><use href="#gr" x="543.4" y="1642.3"/><use href="#gr" x="545.6" y="1628.3"/><use href="#gr" x="547.8" y="1629.4"/><use href="#gr" x="550.0" y="1637.7"/><use href="#gr" x="552.3" y="1640.3"/><use href="#gr" x="554.5" y="1641.5"/><use href="#gr" x="556.5" y="1632.7"/><use href="#gr" x="558.4" y="1625.3"/><use href="#gr" x="560.4" y="1619.4"/><use href="#gr" x="562.4" y="1620.3"/><use href="#gr" x="564.3" y="1615.4"/><use href="#gr" x="566.3" y="1616.5"/><use href="#gr" x="568.5" y="1622.1"/><use href="#gr" x="570.7" y="1628.3"/><use href="#gr" x="572.7" y="1623.2"/><use href="#gr" x="574.6" y="1619.7"/><use href="#gr" x="576.6" y="1613.6"/><use href="#gr" x="578.5" y="1616.5"/><use href="#gr" x="580.5" y="1619.2"/><use href="#gr" x="582.4" y="1622.4"/><use href="#gr" x="584.6" y="1612.1"/><use href="#gr" x="586.9" y="1604.7"/><use href="#gr" x="589.8" y="1610.6"/><use href="#gr" x="592.3" y="1613.3"/><use href="#gr" x="594.7" y="1612.5"/><use href="#gr" x="597.2" y="1612.1"/><use href="#gr" x="599.4" y="1609.2"/><use href="#gr" x="601.6" y="1611.6"/><use href="#gr" x="603.8" y="1610.6"/><use href="#gr" x="606.0" y="1612.1"/><use href="#gr" x="608.1" y="1610.5"/><use href="#gr" x="610.1" y="1611.7"/><use href="#gr" x="612.2" y="1606.5"/><use href="#gr" x="614.2" y="1608.4"/><use href="#gr" x="616.3" y="1606.2"/><use href="#gr" x="618.5" y="1605.7"/><use href="#gr" x="620.7" y="1601.5"/><use href="#gr" x="622.9" y="1597.5"/><use href="#gr" x="625.1" y="1598.8"/><use href="#gr" x="627.6" y="1600.9"/><use href="#gr" x="630.0" y="1607.3"/><use href="#gr" x="632.5" y="1609.1"/><use href="#gr" x="634.6" y="1611.4"/><use href="#gr" x="636.6" y="1609.3"/><use href="#gr" x="638.7" y="1612.5"/><use href="#gr" x="640.7" y="1611.1"/><use href="#gr" x="642.8" y="1615.0"/><use href="#gr" x="644.8" y="1608.8"/><use href="#gr" x="646.8" y="1609.4"/><use href="#gr" x="648.8" y="1601.9"/><use href="#gr" x="650.8" y="1598.8"/><use href="#gr" x="652.7" y="1598.6"/><use href="#gr" x="654.7" y="1605.8"/><use href="#gr" x="656.6" y="1608.9"/><use href="#gr" x="658.6" y="1612.3"/><use href="#gr" x="660.5" y="1612.1"/><use href="#gr" x="662.5" y="1605.9"/><use href="#gr" x="664.5" y="1603.5"/><use href="#gr" x="666.4" y="1595.7"/><use href="#gr" x="668.4" y="1594.4"/><use href="#gr" x="671.0" y="1595.9"/><use href="#gr" x="673.7" y="1594.4"/><use href="#gr" x="676.0" y="1599.3"/><use href="#gr" x="678.2" y="1609.1"/><use href="#gr" x="680.1" y="1611.9"/><use href="#gr" x="682.1" y="1611.6"/><use href="#gr" x="684.0" y="1612.1"/><use href="#gr" x="686.2" y="1617.7"/><use href="#gr" x="688.5" y="1620.9"/><use href="#gr" x="690.7" y="1614.8"/><use href="#gr" x="692.9" y="1603.3"/><use href="#gr" x="695.1" y="1618.4"/><use href="#gr" x="697.3" y="1631.2"/><use href="#gr" x="700.0" y="1624.7"/><use href="#gr" x="702.6" y="1612.1"/><use href="#gr" x="705.1" y="1609.6"/><use href="#gr" x="707.6" y="1612.1"/><use href="#gr" x="709.8" y="1617.0"/><use href="#gr" x="712.0" y="1616.5"/><use href="#gr" x="714.0" y="1617.9"/><use href="#gr" x="715.9" y="1620.7"/><use href="#gr" x="717.9" y="1625.3"/><use href="#gr" x="720.1" y="1624.8"/><use href="#gr" x="722.3" y="1623.9"/><use href="#gr" x="724.5" y="1620.1"/><use href="#gr" x="726.7" y="1622.4"/><use href="#gr" x="728.7" y="1618.3"/><use href="#gr" x="730.6" y="1619.8"/><use href="#gr" x="732.6" y="1619.4"/><use href="#gr" x="734.6" y="1616.8"/><use href="#gr" x="736.5" y="1617.9"/><use href="#gr" x="738.5" y="1616.5"/><use href="#gr" x="740.5" y="1616.5"/><use href="#gr" x="742.4" y="1614.6"/><use href="#gr" x="744.4" y="1618.0"/><use href="#gr" x="746.4" y="1620.3"/><use href="#gr" x="748.3" y="1621.5"/><use href="#gr" x="750.3" y="1622.4"/><use href="#gr" x="752.3" y="1616.5"/><use href="#gr" x="754.2" y="1617.9"/><use href="#gr" x="756.2" y="1613.6"/><use href="#gr" x="758.2" y="1617.0"/><use href="#gr" x="760.1" y="1616.0"/><use href="#gr" x="762.1" y="1615.0"/><use href="#gr" x="764.3" y="1614.2"/><use href="#gr" x="766.5" y="1612.1"/>
<use href="#cow" fill="#111" transform="translate(435.1,1543.8) scale(1.03,1.0) translate(-544,-55.5)"/>
<use href="#goat" fill="#2a2526" transform="translate(447.1,1592.4) scale(1.0,1.03) translate(-498.2,-79.4)"/>
<path d="M214.7,2069.3 L221.0,2050.3 L233.6,2031.4 L249.4,2012.5 L262.0,2003.0 L274.6,1993.6 L284.1,1981.0 L287.3,1962.0 L299.9,1946.2 L315.6,1936.8 L325.1,1921.0 L331.4,1919.4 L344.0,1924.2 L363.0,1924.2 L375.6,1921.0 L388.2,1914.7 L407.1,1911.5 L432.4,1910.0 L447.3,1908.4 L463.1,1906.8 L478.9,1904.6 L494.6,1906.8 L501.0,1911.5 L497.8,1921.0 L502.5,1928.9 L493.1,1938.4 L504.1,1941.5 L519.9,1949.4 L538.8,1951.0 L557.7,1960.4 L576.7,1969.9 L586.1,1974.6 L592.4,1968.3 L595.6,1957.3 L608.2,1952.6 L620.8,1954.1 L639.7,1958.9 L658.9,1961.5 L681.0,1966.3 L695.2,1964.7 L712.6,1964.7 L718.9,1967.9 L720.4,1969.4 L734.6,1964.7 L747.3,1961.5 L748.5,1975.0 L747.3,1986.8 L741.0,2002.6 L726.0,1982.0 L722.0,1984.0 L731.5,2004.0 L741.0,2021.5 L750.4,2037.3 L756.7,2049.9 L766.2,2062.5 L772.5,2087.7 L778.8,2106.7 L788.3,2119.3 L804.0,2128.7 L816.7,2138.2 L820.8,2140.0 L829.3,2150.8 L833.4,2155.8 L839.7,2171.5 L852.4,2181.0 L874.4,2174.7 L890.2,2171.5 L905.0,2170.0 L915.6,2168.3 L917.5,2181.2 L912.0,2196.0 L906.4,2210.7 L891.6,2240.3 L869.5,2266.1 L843.6,2288.3 L821.5,2306.7 L804.9,2325.2 L795.0,2340.0 L792.0,2351.0 L795.6,2364.0 L518.3,2364.0 L511.6,2352.5 L501.5,2335.7 L488.0,2315.5 L478.0,2298.7 L479.6,2288.6 L483.0,2275.2 L484.7,2258.3 L481.3,2248.2 L474.6,2243.2 L461.1,2244.9 L447.7,2244.9 L444.3,2239.8 L437.6,2233.1 L427.5,2228.0 L414.0,2226.4 L400.6,2228.0 L387.1,2233.1 L373.6,2233.1 L360.2,2238.1 L343.9,2238.2 L328.1,2239.8 L309.2,2244.5 L293.4,2233.5 L280.8,2224.0 L261.9,2214.6 L252.4,2208.3 L246.1,2195.6 L236.7,2186.2 L224.0,2176.7 L214.6,2164.1 L211.4,2148.3 L206.7,2138.9 L211.4,2132.6 L217.7,2116.8 L220.9,2097.9 L217.7,2085.2 Z" fill="#000"/>
<path d="M214.7,2069.3 L227.3,2056.7 L243.1,2044.0 L258.9,2031.4 L274.6,2023.5 L293.6,2015.6 L312.5,2006.2 L322.0,1996.7 L328.3,1984.1 L334.6,1974.6 L331.4,1962.0 L333.0,1955.7 L347.2,1952.6 L369.3,1949.4 L381.9,1955.7 L394.5,1971.5 L400.8,1984.1 L413.4,1996.7 L432.4,2003.0 L441.8,2012.5 L449.7,2028.3 L452.9,2047.2 L448.1,2063.0 L435.5,2075.6 L419.7,2078.7 L400.8,2081.9 L391.4,2088.2 L381.9,2100.8 L366.1,2104.0 L353.5,2094.5 L344.0,2081.9 L331.4,2069.3 L318.8,2059.8 L299.9,2058.2 L279.3,2061.0 L275.2,2071.0 L265.6,2078.7 L257.4,2076.5 L251.9,2069.6 L235.5,2079.2 L221.0,2083.5 L216.0,2078.0 Z" fill="#e2e2e2" stroke="#f4f4f4" stroke-width="1"/>
<defs><linearGradient id="chg" x1="0" y1="0" x2="1" y2="1"><stop offset="0" stop-color="#8a8a8a"/><stop offset="0.6" stop-color="#8e8e8e"/><stop offset="1" stop-color="#a2a2a2"/></linearGradient></defs>
<path d="M460.5,2040.1 L464.6,2031.9 L481.0,2030.5 L502.9,2040.1 L513.8,2053.7 L530.2,2052.4 L543.9,2053.7 L557.6,2064.7 L582.2,2067.4 L604.0,2068.8 L620.4,2071.5 L631.4,2068.8 L639.6,2078.3 L631.4,2092.0 L636.8,2100.2 L628.6,2111.1 L623.2,2122.1 L615.0,2133.0 L620.4,2138.5 L634.1,2141.2 L637.9,2150.0 L631.5,2158.9 L637.9,2181.0 L631.5,2196.8 L629.4,2196.1 L619.3,2204.5 L609.2,2214.6 L595.7,2221.3 L575.5,2228.0 L562.1,2233.1 L555.3,2228.0 L541.9,2218.0 L528.4,2212.9 L541.9,2201.1 L545.2,2187.7 L528.4,2181.0 L518.3,2177.6 L501.5,2169.2 L481.3,2174.2 L464.6,2172.5 L470.1,2157.6 L474.2,2144.0 L475.5,2122.1 L478.3,2092.0 L481.0,2072.9 L472.8,2053.7 Z" fill="url(#chg)" stroke="#d6d6d6" stroke-width="1"/>
<path d="M696.8,1966.3 L715.7,1966.3 L717.3,1977.3 L722.0,1993.1 L734.6,2012.0 L744.1,2034.1 L750.4,2049.9 L747.3,2068.8 L759.9,2087.7 L769.3,2100.3 L763.0,2113.0 L769.3,2128.7 L788.3,2135.0 L795.6,2140.0 L792.4,2149.5 L797.2,2171.5 L795.6,2190.5 L779.8,2196.8 L770.3,2196.8 L757.7,2215.7 L748.3,2234.6 L735.6,2247.3 L745.1,2263.0 L748.3,2275.6 L756.2,2294.6 L754.6,2310.3 L738.8,2323.0 L726.2,2330.8 L707.3,2319.8 L694.6,2329.3 L688.3,2304.0 L691.5,2285.1 L704.1,2272.5 L704.1,2253.6 L691.5,2242.5 L678.9,2241.0 L663.1,2225.2 L647.3,2209.4 L634.7,2200.0 L637.9,2181.0 L631.5,2158.9 L637.9,2150.0 L642.3,2144.0 L658.7,2135.8 L668.4,2130.0 L669.6,2124.8 L666.9,2092.0 L671.5,2084.6 L693.6,2078.3 L703.0,2065.6 L715.7,2053.0 L718.9,2037.3 L712.6,2024.6 L704.7,2002.6 L700.0,1983.6 Z" fill="#5b5b5b" stroke="#c8c8c8" stroke-width="1"/>
<path d="M57.8,1843.9 H944.6 V2364.2 H57.8 Z" fill="none" stroke="#000" stroke-width="3"/>
<line x1="77.5" y1="1833.5" x2="77.5" y2="1844" stroke="#000" stroke-width="2.6" />
<line x1="180.5" y1="1833.5" x2="180.5" y2="1844" stroke="#000" stroke-width="2.6" />
<line x1="284.7" y1="1833.5" x2="284.7" y2="1844" stroke="#000" stroke-width="2.6" />
<line x1="386.6" y1="1833.5" x2="386.6" y2="1844" stroke="#000" stroke-width="2.6" />
<line x1="490.7" y1="1833.5" x2="490.7" y2="1844" stroke="#000" stroke-width="2.6" />
<line x1="593.5" y1="1833.5" x2="593.5" y2="1844" stroke="#000" stroke-width="2.6" />
<line x1="696.6" y1="1833.5" x2="696.6" y2="1844" stroke="#000" stroke-width="2.6" />
<line x1="800.8" y1="1833.5" x2="800.8" y2="1844" stroke="#000" stroke-width="2.6" />
<line x1="903.6" y1="1833.5" x2="903.6" y2="1844" stroke="#000" stroke-width="2.6" />
<line x1="46.8" y1="1877" x2="57.8" y2="1877" stroke="#000" stroke-width="2.6" />
<line x1="46.8" y1="1980.6" x2="57.8" y2="1980.6" stroke="#000" stroke-width="2.6" />
<line x1="46.8" y1="2082.9" x2="57.8" y2="2082.9" stroke="#000" stroke-width="2.6" />
<line x1="46.8" y1="2186.2" x2="57.8" y2="2186.2" stroke="#000" stroke-width="2.6" />
<line x1="46.8" y1="2289.2" x2="57.8" y2="2289.2" stroke="#000" stroke-width="2.6" />
<text x="183" y="1828.2" font-size="25" text-anchor="middle" font-weight="bold" font-style="italic" fill="#000" >-20º</text>
<text x="393" y="1828.2" font-size="25" text-anchor="middle" font-weight="bold" font-style="italic" fill="#000" >0º</text>
<text x="597" y="1828.2" font-size="25" text-anchor="middle" font-weight="bold" font-style="italic" fill="#000" >20º</text>
<text x="804" y="1828.2" font-size="25" text-anchor="middle" font-weight="bold" font-style="italic" fill="#000" >40º</text>
<text x="46" y="1886" font-size="25" text-anchor="end" font-weight="bold" font-style="italic" fill="#000" >40º</text>
<text x="46" y="2091.9" font-size="25" text-anchor="end" font-weight="bold" font-style="italic" fill="#000" >20º</text>
<text x="46" y="2298.2" font-size="25" text-anchor="end" font-weight="bold" font-style="italic" fill="#000" >0º</text>
<polyline points="58.0,2027.0 80.5,2082.5 58.0,2142.0" fill="none" stroke="#000" stroke-width="2.2" stroke-linejoin="round" />
<path d="M544.2,2126.8 L549.4,2114.2 L552.6,2111.0 L561.0,2108.4 L569.4,2108.9 L575.7,2102.6 L583.1,2103.7 L587.3,2110.0 L585.2,2118.4 L577.8,2126.8 L578.9,2131.0 L567.3,2136.3 L563.1,2144.7 L571.5,2154.1 L567.3,2159.4 L554.7,2157.3 L544.2,2159.4 L537.9,2165.7 L527.3,2163.6 L522.1,2157.3 L510.5,2157.3 L511.6,2148.9 L521.0,2144.7 L526.3,2140.5 L533.6,2142.6 L545.2,2148.9 L554.7,2148.9 L561.0,2137.3 L558.9,2131.0 L550.5,2128.9 Z" fill="none" stroke="#3b6fd4" stroke-width="2.2" stroke-linejoin="round"/>
<path d="M523,2144 L528,2142 L534,2146 L541,2150 L542,2155 L536,2156 L532,2159 L528,2158 L527,2152 L523,2148 Z" fill="#a9dcf2"/>
<text x="82.1" y="2095.2" font-size="60" text-anchor="start" fill="#000" textLength="81" lengthAdjust="spacingAndGlyphs" font-family="Liberation Serif, serif">(A)</text>
<text x="142" y="2053.1" font-size="59" text-anchor="start" fill="#000" textLength="80" lengthAdjust="spacingAndGlyphs" font-family="Liberation Serif, serif">(G)</text>
<text x="644.2" y="1939.6" font-size="61" text-anchor="start" fill="#000" textLength="75.7" lengthAdjust="spacingAndGlyphs" font-family="Liberation Serif, serif">(B)</text>
<text x="727.3" y="1931.2" font-size="59" text-anchor="start" fill="#000" textLength="73.6" lengthAdjust="spacingAndGlyphs" font-family="Liberation Serif, serif">(C)</text>
<text x="543.5" y="2056.7" font-size="58" text-anchor="start" fill="#fff" textLength="79" lengthAdjust="spacingAndGlyphs" font-family="Liberation Serif, serif">(D)</text>
<text x="488.8" y="2119.9" font-size="60" text-anchor="start" fill="#fff" textLength="69.7" lengthAdjust="spacingAndGlyphs" font-family="Liberation Serif, serif">(F)</text>
<text x="451.3" y="2222.5" font-size="60" text-anchor="start" fill="#fff" textLength="72.4" lengthAdjust="spacingAndGlyphs" font-family="Liberation Serif, serif">(E)</text>
<path d="M194.6,2064.6 L197.5,2072.3 L205.6,2072.6 L199.2,2077.7 L201.4,2085.6 L194.6,2081.1 L187.8,2085.6 L190.0,2077.7 L183.6,2072.6 L191.7,2072.3Z" fill="#e8222a" stroke="#1a1a2a" stroke-width="1.6" stroke-linejoin="miter"/>
<path d="M693.6,1952.1 L696.6,1960.2 L705.3,1960.6 L698.5,1966.0 L700.8,1974.4 L693.6,1969.6 L686.4,1974.4 L688.7,1966.0 L681.9,1960.6 L690.6,1960.2Z" fill="#e8222a" stroke="#1a1a2a" stroke-width="1.6" stroke-linejoin="miter"/>
<path d="M742.0,1946.9 L745.0,1955.0 L753.7,1955.4 L746.9,1960.8 L749.2,1969.2 L742.0,1964.4 L734.8,1969.2 L737.1,1960.8 L730.3,1955.4 L739.0,1955.0Z" fill="#e8222a" stroke="#1a1a2a" stroke-width="1.6" stroke-linejoin="miter"/>
<path d="M598.6,2081.9 L601.4,2089.5 L609.5,2089.8 L603.2,2094.9 L605.4,2102.7 L598.6,2098.2 L591.8,2102.7 L594.0,2094.9 L587.7,2089.8 L595.8,2089.5Z" fill="#e8222a" stroke="#1a1a2a" stroke-width="1.6" stroke-linejoin="miter"/>
<path d="M511.6,2174.5 L513.2,2178.8 L517.8,2179.0 L514.2,2181.8 L515.4,2186.3 L511.6,2183.7 L507.8,2186.3 L509.0,2181.8 L505.4,2179.0 L510.0,2178.8Z" fill="#e8222a" stroke="none" stroke-width="0" stroke-linejoin="miter"/>
<line x1="620.4" y1="2067.4" x2="610.9" y2="2085.2" stroke="#fff" stroke-width="1.3" />
<text x="258.8" y="2053.2" font-size="28" text-anchor="start" font-weight="bold" font-style="italic" fill="#000" textLength="177.7" lengthAdjust="spacingAndGlyphs" >Tamanrasett</text>
<text x="617.7" y="2064.7" font-size="23.5" text-anchor="start" font-weight="bold" font-style="italic" fill="#fff" textLength="45" lengthAdjust="spacingAndGlyphs" >Yoa</text>
<text x="543.3" y="2186" font-size="29" text-anchor="start" font-weight="bold" font-style="italic" fill="#000" textLength="74" lengthAdjust="spacingAndGlyphs" >Chad</text>
<text x="693" y="2179.4" font-size="28.5" text-anchor="start" font-weight="bold" font-style="italic" fill="#000" textLength="54.6" lengthAdjust="spacingAndGlyphs" >Nile</text>
<circle cx="126" cy="2112" r="1.5" fill="#000"/>
<circle cx="130" cy="2114.5" r="1.3" fill="#000"/>
<circle cx="133" cy="2116" r="1.3" fill="#000"/>
<circle cx="136" cy="2117" r="1.4" fill="#000"/>
<circle cx="150" cy="2117" r="1.3" fill="#000"/>
<circle cx="152" cy="2122" r="1.5" fill="#000"/>
<circle cx="143" cy="2128" r="1.5" fill="#000"/>
<circle cx="146" cy="2130" r="1.4" fill="#000"/>
<circle cx="137" cy="2134" r="1.3" fill="#000"/>
<circle cx="133" cy="2135" r="1.3" fill="#000"/>
<ellipse cx="477.3" cy="2253.5" rx="1.8" ry="2.4" fill="#000"/>
<ellipse cx="462.5" cy="2273.5" rx="1.2" ry="1.6" fill="#000"/>
<ellipse cx="456" cy="2287" rx="1.3" ry="1.6" fill="#000"/>
<ellipse cx="446.5" cy="2304" rx="0.9" ry="0.9" fill="#000"/>
<ellipse cx="215" cy="2163.5" rx="1.5" ry="1.2" fill="#000"/>
</svg>
</body></html>
